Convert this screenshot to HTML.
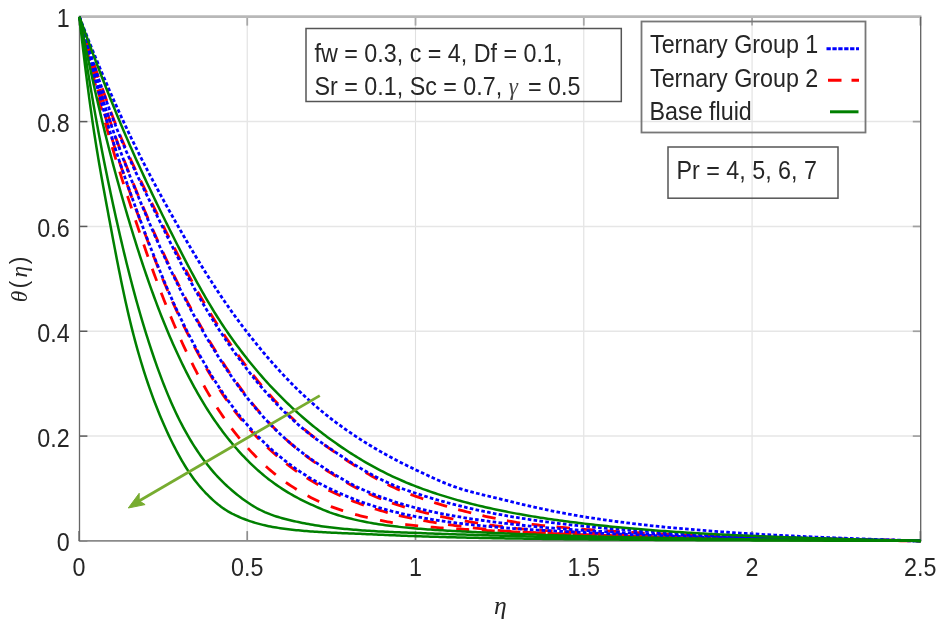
<!DOCTYPE html>
<html><head><meta charset="utf-8"><style>
html,body{margin:0;padding:0;background:#fff;}
svg{display:block;filter:blur(0.45px);}
text{font-family:"Liberation Sans",sans-serif;font-size:23.3px;fill:#262626;}
.gk{font-family:'Liberation Serif',serif;font-style:italic;}
</style></head><body>
<svg width="944" height="628" viewBox="0 0 944 628">
<rect width="944" height="628" fill="#fff"/>
<g><line x1="247.23" y1="16.8" x2="247.23" y2="540.9" stroke="#e0e0e0" stroke-width="1.1"/>
<line x1="415.51" y1="16.8" x2="415.51" y2="540.9" stroke="#e0e0e0" stroke-width="1.1"/>
<line x1="583.79" y1="16.8" x2="583.79" y2="540.9" stroke="#e0e0e0" stroke-width="1.1"/>
<line x1="752.07" y1="16.8" x2="752.07" y2="540.9" stroke="#e0e0e0" stroke-width="1.1"/>
<line x1="79.4" y1="436.08" x2="920.8" y2="436.08" stroke="#e6e6e6" stroke-width="1.5"/>
<line x1="79.4" y1="331.26" x2="920.8" y2="331.26" stroke="#e6e6e6" stroke-width="1.5"/>
<line x1="79.4" y1="226.44" x2="920.8" y2="226.44" stroke="#e6e6e6" stroke-width="1.5"/>
<line x1="79.4" y1="121.62" x2="920.8" y2="121.62" stroke="#e6e6e6" stroke-width="1.5"/></g>
<g><line x1="78.95" y1="540.9" x2="78.95" y2="531.1" stroke="#8e8e8e" stroke-width="1.7"/>
<line x1="78.95" y1="16.7" x2="78.95" y2="25.6" stroke="#a8a8a8" stroke-width="1.8"/>
<line x1="247.23" y1="540.9" x2="247.23" y2="531.1" stroke="#8e8e8e" stroke-width="1.7"/>
<line x1="247.23" y1="16.7" x2="247.23" y2="25.6" stroke="#a8a8a8" stroke-width="1.8"/>
<line x1="415.51" y1="540.9" x2="415.51" y2="531.1" stroke="#8e8e8e" stroke-width="1.7"/>
<line x1="415.51" y1="16.7" x2="415.51" y2="25.6" stroke="#a8a8a8" stroke-width="1.8"/>
<line x1="583.79" y1="540.9" x2="583.79" y2="531.1" stroke="#8e8e8e" stroke-width="1.7"/>
<line x1="583.79" y1="16.7" x2="583.79" y2="25.6" stroke="#a8a8a8" stroke-width="1.8"/>
<line x1="752.07" y1="540.9" x2="752.07" y2="531.1" stroke="#8e8e8e" stroke-width="1.7"/>
<line x1="752.07" y1="16.7" x2="752.07" y2="25.6" stroke="#a8a8a8" stroke-width="1.8"/>
<line x1="920.35" y1="540.9" x2="920.35" y2="531.1" stroke="#8e8e8e" stroke-width="1.7"/>
<line x1="920.35" y1="16.7" x2="920.35" y2="25.6" stroke="#a8a8a8" stroke-width="1.8"/>
<line x1="79.4" y1="540.90" x2="87.4" y2="540.90" stroke="#5a5a5a" stroke-width="1.5"/>
<line x1="920.8" y1="540.90" x2="912.8" y2="540.90" stroke="#a0a0a0" stroke-width="1.7"/>
<line x1="79.4" y1="436.08" x2="87.4" y2="436.08" stroke="#5a5a5a" stroke-width="1.5"/>
<line x1="920.8" y1="436.08" x2="912.8" y2="436.08" stroke="#a0a0a0" stroke-width="1.7"/>
<line x1="79.4" y1="331.26" x2="87.4" y2="331.26" stroke="#5a5a5a" stroke-width="1.5"/>
<line x1="920.8" y1="331.26" x2="912.8" y2="331.26" stroke="#a0a0a0" stroke-width="1.7"/>
<line x1="79.4" y1="226.44" x2="87.4" y2="226.44" stroke="#5a5a5a" stroke-width="1.5"/>
<line x1="920.8" y1="226.44" x2="912.8" y2="226.44" stroke="#a0a0a0" stroke-width="1.7"/>
<line x1="79.4" y1="121.62" x2="87.4" y2="121.62" stroke="#5a5a5a" stroke-width="1.5"/>
<line x1="920.8" y1="121.62" x2="912.8" y2="121.62" stroke="#a0a0a0" stroke-width="1.7"/>
<line x1="79.4" y1="16.80" x2="87.4" y2="16.80" stroke="#5a5a5a" stroke-width="1.5"/>
<line x1="920.8" y1="16.80" x2="912.8" y2="16.80" stroke="#a0a0a0" stroke-width="1.7"/></g>
<line x1="78.80000000000001" y1="16.7" x2="921.4" y2="16.7" stroke="#b8b8b8" stroke-width="2.8"/>
<line x1="78.80000000000001" y1="540.9" x2="921.4" y2="540.9" stroke="#8a8a8a" stroke-width="1.9"/>
<line x1="79.5" y1="16.8" x2="79.5" y2="540.9" stroke="#666" stroke-width="1.3"/>
<line x1="920.7" y1="16.8" x2="920.7" y2="540.9" stroke="#606060" stroke-width="1.3"/>
<g><path d="M79.40,16.80 L79.46,17.06 L79.58,17.60 L79.74,18.33 L79.93,19.22 L80.16,20.25 L80.42,21.42 L80.70,22.71 L81.02,24.10 L81.35,25.60 L81.71,27.21 L82.09,28.90 L82.49,30.69 L82.91,32.55 L83.36,34.51 L83.82,36.53 L84.30,38.64 L84.80,40.81 L85.31,43.06 L85.85,45.36 L86.40,47.74 L86.97,50.17 L87.55,52.66 L88.15,55.21 L88.77,57.81 L89.40,60.47 L90.05,63.17 L90.71,65.93 L91.39,68.73 L92.08,71.57 L92.79,74.46 L93.51,77.38 L94.25,80.35 L95.00,83.35 L95.76,86.39 L96.54,89.47 L97.33,92.57 L98.13,95.71 L98.95,98.88 L99.78,102.07 L100.62,105.30 L101.47,108.55 L102.34,111.82 L103.22,115.12 L104.12,118.44 L105.02,121.77 L105.94,125.12 L106.87,128.48 L107.81,131.84 L108.76,135.21 L109.72,138.59 L110.70,141.96 L111.69,145.35 L112.69,148.74 L113.70,152.14 L114.72,155.54 L115.75,158.95 L116.80,162.36 L117.85,165.79 L118.92,169.22 L120.00,172.66 L121.08,176.11 L122.18,179.58 L123.29,183.05 L124.41,186.53 L125.54,190.03 L126.68,193.54 L127.84,197.07 L129.00,200.61 L130.17,204.17 L131.35,207.74 L132.54,211.34 L133.75,214.95 L134.96,218.58 L136.18,222.24 L137.42,225.92 L138.66,229.61 L139.91,233.32 L141.17,237.04 L142.44,240.77 L143.73,244.50 L145.02,248.24 L146.32,251.99 L147.63,255.73 L148.95,259.48 L150.28,263.22 L151.62,266.96 L152.97,270.70 L154.32,274.42 L155.69,278.14 L157.07,281.85 L158.45,285.55 L159.85,289.24 L161.25,292.91 L162.66,296.56 L164.08,300.20 L165.52,303.82 L166.95,307.41 L168.40,310.99 L169.86,314.54 L171.33,318.06 L172.80,321.56 L174.29,325.03 L175.78,328.48 L177.28,331.89 L178.79,335.28 L180.31,338.65 L181.84,342.00 L183.37,345.32 L184.92,348.62 L186.47,351.89 L188.03,355.14 L189.60,358.36 L191.18,361.56 L192.77,364.72 L194.36,367.86 L195.97,370.97 L197.58,374.04 L199.20,377.09 L200.83,380.10 L202.47,383.08 L204.11,386.03 L205.76,388.95 L207.42,391.83 L209.09,394.67 L210.77,397.48 L212.46,400.26 L214.15,403.00 L215.85,405.70 L217.56,408.37 L219.28,411.00 L221.01,413.59 L222.74,416.14 L224.48,418.66 L226.23,421.14 L227.99,423.58 L229.75,425.99 L231.52,428.35 L233.30,430.68 L235.09,432.97 L236.89,435.22 L238.69,437.44 L240.50,439.62 L242.32,441.78 L244.15,443.91 L245.98,446.01 L247.83,448.07 L249.68,450.11 L251.53,452.11 L253.40,454.08 L255.27,456.02 L257.15,457.93 L259.04,459.80 L260.93,461.65 L262.83,463.46 L264.74,465.23 L266.66,466.98 L268.58,468.69 L270.52,470.36 L272.46,472.01 L274.40,473.62 L276.36,475.20 L278.32,476.74 L280.28,478.25 L282.26,479.73 L284.24,481.18 L286.23,482.60 L288.23,483.98 L290.23,485.33 L292.25,486.65 L294.26,487.94 L296.29,489.21 L298.32,490.45 L300.36,491.67 L302.41,492.87 L304.46,494.05 L306.53,495.20 L308.59,496.33 L310.67,497.43 L312.75,498.51 L314.84,499.55 L316.94,500.57 L319.04,501.56 L321.15,502.51 L323.27,503.44 L325.39,504.33 L327.52,505.20 L329.66,506.03 L331.81,506.83 L333.96,507.60 L336.12,508.37 L338.28,509.11 L340.45,509.85 L342.63,510.57 L344.82,511.27 L347.01,511.96 L349.21,512.64 L351.41,513.29 L353.63,513.94 L355.85,514.57 L358.07,515.18 L360.31,515.78 L362.54,516.36 L364.79,516.93 L367.04,517.48 L369.30,518.01 L371.57,518.53 L373.84,519.04 L376.12,519.53 L378.41,520.00 L380.70,520.46 L383.00,520.91 L385.30,521.34 L387.61,521.76 L389.93,522.16 L392.26,522.55 L394.59,522.92 L396.93,523.28 L399.27,523.63 L401.62,523.96 L403.98,524.28 L406.34,524.59 L408.71,524.89 L411.09,525.17 L413.47,525.44 L415.86,525.69 L418.26,525.94 L420.66,526.17 L423.07,526.40 L425.48,526.62 L427.91,526.83 L430.33,527.04 L432.77,527.23 L435.21,527.43 L437.65,527.61 L440.11,527.79 L442.57,527.97 L445.03,528.14 L447.50,528.30 L449.98,528.47 L452.46,528.63 L454.95,528.78 L457.45,528.93 L459.95,529.08 L462.46,529.23 L464.98,529.37 L467.50,529.51 L470.03,529.65 L472.56,529.79 L475.10,529.92 L477.64,530.06 L480.20,530.19 L482.75,530.32 L485.32,530.45 L487.89,530.58 L490.46,530.72 L493.05,530.85 L495.64,530.98 L498.23,531.11 L500.83,531.24 L503.44,531.37 L506.05,531.50 L508.67,531.62 L511.29,531.75 L513.92,531.87 L516.56,531.99 L519.20,532.11 L521.85,532.22 L524.50,532.34 L527.16,532.45 L529.83,532.57 L532.50,532.68 L535.18,532.79 L537.86,532.89 L540.55,533.00 L543.25,533.11 L545.95,533.21 L548.66,533.32 L551.37,533.42 L554.09,533.52 L556.82,533.63 L559.55,533.73 L562.29,533.83 L565.03,533.93 L567.78,534.03 L570.53,534.13 L573.29,534.23 L576.06,534.32 L578.83,534.42 L581.61,534.52 L584.39,534.62 L587.18,534.71 L589.97,534.81 L592.77,534.90 L595.58,535.00 L598.39,535.09 L601.21,535.18 L604.03,535.27 L606.86,535.36 L609.70,535.45 L612.54,535.54 L615.38,535.63 L618.24,535.71 L621.09,535.80 L623.96,535.89 L626.83,535.97 L629.70,536.05 L632.58,536.13 L635.47,536.22 L638.36,536.30 L641.26,536.38 L644.16,536.46 L647.07,536.53 L649.98,536.61 L652.90,536.69 L655.82,536.76 L658.76,536.84 L661.69,536.91 L664.63,536.99 L667.58,537.06 L670.53,537.13 L673.49,537.20 L676.46,537.27 L679.43,537.34 L682.40,537.41 L685.38,537.48 L688.37,537.55 L691.36,537.61 L694.36,537.68 L697.36,537.74 L700.37,537.81 L703.38,537.87 L706.40,537.93 L709.42,538.00 L712.45,538.06 L715.49,538.12 L718.53,538.18 L721.58,538.24 L724.63,538.30 L727.68,538.36 L730.75,538.41 L733.81,538.47 L736.89,538.53 L739.97,538.58 L743.05,538.64 L746.14,538.69 L749.23,538.75 L752.33,538.80 L755.44,538.85 L758.55,538.90 L761.67,538.95 L764.79,538.99 L767.92,539.04 L771.05,539.09 L774.19,539.14 L777.33,539.18 L780.48,539.23 L783.63,539.27 L786.79,539.32 L789.95,539.36 L793.12,539.40 L796.30,539.45 L799.48,539.49 L802.66,539.53 L805.85,539.57 L809.05,539.61 L812.25,539.66 L815.46,539.70 L818.67,539.74 L821.89,539.78 L825.11,539.82 L828.34,539.86 L831.57,539.90 L834.81,539.93 L838.05,539.97 L841.30,540.01 L844.55,540.05 L847.81,540.09 L851.07,540.13 L854.34,540.16 L857.62,540.20 L860.89,540.24 L864.18,540.28 L867.47,540.31 L870.76,540.35 L874.06,540.39 L877.37,540.42 L880.68,540.46 L883.99,540.50 L887.31,540.53 L890.64,540.57 L893.97,540.61 L897.31,540.64 L900.65,540.68 L903.99,540.72 L907.34,540.75 L910.70,540.79 L914.06,540.83 L917.43,540.86 L920.80,540.90" stroke="#ff0000" stroke-width="2.8" stroke-dasharray="13 12.58" stroke-dashoffset="18.98" fill="none"/>
<path d="M79.40,16.80 L79.46,17.05 L79.58,17.55 L79.74,18.23 L79.93,19.07 L80.16,20.04 L80.42,21.13 L80.70,22.33 L81.02,23.64 L81.35,25.05 L81.71,26.55 L82.09,28.13 L82.49,29.81 L82.91,31.56 L83.36,33.39 L83.82,35.29 L84.30,37.26 L84.80,39.30 L85.31,41.40 L85.85,43.56 L86.40,45.79 L86.97,48.07 L87.55,50.41 L88.15,52.80 L88.77,55.24 L89.40,57.73 L90.05,60.26 L90.71,62.85 L91.39,65.47 L92.08,68.14 L92.79,70.85 L93.51,73.60 L94.25,76.38 L95.00,79.20 L95.76,82.06 L96.54,84.94 L97.33,87.86 L98.13,90.81 L98.95,93.79 L99.78,96.79 L100.62,99.82 L101.47,102.87 L102.34,105.95 L103.22,109.05 L104.12,112.17 L105.02,115.31 L105.94,118.47 L106.87,121.64 L107.81,124.83 L108.76,128.03 L109.72,131.23 L110.70,134.43 L111.69,137.64 L112.69,140.86 L113.70,144.08 L114.72,147.31 L115.75,150.54 L116.80,153.77 L117.85,157.01 L118.92,160.26 L120.00,163.51 L121.08,166.77 L122.18,170.03 L123.29,173.30 L124.41,176.58 L125.54,179.87 L126.68,183.16 L127.84,186.46 L129.00,189.77 L130.17,193.09 L131.35,196.41 L132.54,199.75 L133.75,203.10 L134.96,206.46 L136.18,209.83 L137.42,213.22 L138.66,216.62 L139.91,220.03 L141.17,223.45 L142.44,226.90 L143.73,230.35 L145.02,233.81 L146.32,237.27 L147.63,240.74 L148.95,244.21 L150.28,247.68 L151.62,251.15 L152.97,254.62 L154.32,258.08 L155.69,261.55 L157.07,265.00 L158.45,268.45 L159.85,271.90 L161.25,275.33 L162.66,278.76 L164.08,282.17 L165.52,285.57 L166.95,288.96 L168.40,292.33 L169.86,295.69 L171.33,299.03 L172.80,302.35 L174.29,305.66 L175.78,308.94 L177.28,312.20 L178.79,315.45 L180.31,318.66 L181.84,321.86 L183.37,325.03 L184.92,328.18 L186.47,331.30 L188.03,334.40 L189.60,337.48 L191.18,340.54 L192.77,343.59 L194.36,346.61 L195.97,349.62 L197.58,352.60 L199.20,355.57 L200.83,358.51 L202.47,361.43 L204.11,364.32 L205.76,367.19 L207.42,370.03 L209.09,372.85 L210.77,375.64 L212.46,378.40 L214.15,381.14 L215.85,383.84 L217.56,386.52 L219.28,389.17 L221.01,391.78 L222.74,394.37 L224.48,396.93 L226.23,399.45 L227.99,401.94 L229.75,404.41 L231.52,406.83 L233.30,409.23 L235.09,411.59 L236.89,413.92 L238.69,416.22 L240.50,418.48 L242.32,420.71 L244.15,422.91 L245.98,425.07 L247.83,427.20 L249.68,429.29 L251.53,431.35 L253.40,433.38 L255.27,435.37 L257.15,437.33 L259.04,439.26 L260.93,441.17 L262.83,443.05 L264.74,444.90 L266.66,446.73 L268.58,448.53 L270.52,450.30 L272.46,452.05 L274.40,453.78 L276.36,455.47 L278.32,457.15 L280.28,458.79 L282.26,460.41 L284.24,462.00 L286.23,463.57 L288.23,465.11 L290.23,466.63 L292.25,468.12 L294.26,469.58 L296.29,471.02 L298.32,472.43 L300.36,473.82 L302.41,475.19 L304.46,476.53 L306.53,477.84 L308.59,479.13 L310.67,480.40 L312.75,481.64 L314.84,482.86 L316.94,484.06 L319.04,485.23 L321.15,486.38 L323.27,487.50 L325.39,488.61 L327.52,489.69 L329.66,490.75 L331.81,491.79 L333.96,492.82 L336.12,493.83 L338.28,494.83 L340.45,495.81 L342.63,496.77 L344.82,497.71 L347.01,498.64 L349.21,499.56 L351.41,500.45 L353.63,501.33 L355.85,502.19 L358.07,503.04 L360.31,503.87 L362.54,504.68 L364.79,505.48 L367.04,506.26 L369.30,507.03 L371.57,507.77 L373.84,508.51 L376.12,509.22 L378.41,509.93 L380.70,510.61 L383.00,511.28 L385.30,511.94 L387.61,512.58 L389.93,513.21 L392.26,513.82 L394.59,514.41 L396.93,515.00 L399.27,515.56 L401.62,516.12 L403.98,516.66 L406.34,517.19 L408.71,517.70 L411.09,518.20 L413.47,518.69 L415.86,519.17 L418.26,519.63 L420.66,520.09 L423.07,520.54 L425.48,520.97 L427.91,521.40 L430.33,521.82 L432.77,522.23 L435.21,522.64 L437.65,523.03 L440.11,523.42 L442.57,523.79 L445.03,524.16 L447.50,524.53 L449.98,524.88 L452.46,525.23 L454.95,525.57 L457.45,525.90 L459.95,526.23 L462.46,526.54 L464.98,526.86 L467.50,527.16 L470.03,527.46 L472.56,527.75 L475.10,528.04 L477.64,528.32 L480.20,528.60 L482.75,528.86 L485.32,529.13 L487.89,529.38 L490.46,529.64 L493.05,529.88 L495.64,530.12 L498.23,530.36 L500.83,530.59 L503.44,530.81 L506.05,531.03 L508.67,531.25 L511.29,531.46 L513.92,531.66 L516.56,531.86 L519.20,532.00 L521.85,532.13 L524.50,532.26 L527.16,532.38 L529.83,532.51 L532.50,532.63 L535.18,532.75 L537.86,532.86 L540.55,532.98 L543.25,533.09 L545.95,533.20 L548.66,533.32 L551.37,533.43 L554.09,533.53 L556.82,533.64 L559.55,533.75 L562.29,533.86 L565.03,533.96 L567.78,534.07 L570.53,534.17 L573.29,534.28 L576.06,534.38 L578.83,534.49 L581.61,534.59 L584.39,534.70 L587.18,534.80 L589.97,534.90 L592.77,535.00 L595.58,535.10 L598.39,535.20 L601.21,535.30 L604.03,535.40 L606.86,535.49 L609.70,535.59 L612.54,535.68 L615.38,535.77 L618.24,535.86 L621.09,535.95 L623.96,536.04 L626.83,536.13 L629.70,536.22 L632.58,536.30 L635.47,536.39 L638.36,536.47 L641.26,536.55 L644.16,536.63 L647.07,536.71 L649.98,536.79 L652.90,536.87 L655.82,536.95 L658.76,537.03 L661.69,537.10 L664.63,537.18 L667.58,537.25 L670.53,537.32 L673.49,537.40 L676.46,537.47 L679.43,537.54 L682.40,537.61 L685.38,537.68 L688.37,537.74 L691.36,537.81 L694.36,537.88 L697.36,537.94 L700.37,538.01 L703.38,538.07 L706.40,538.13 L709.42,538.19 L712.45,538.26 L715.49,538.32 L718.53,538.38 L721.58,538.44 L724.63,538.49 L727.68,538.55 L730.75,538.61 L733.81,538.66 L736.89,538.72 L739.97,538.77 L743.05,538.83 L746.14,538.88 L749.23,538.93 L752.33,538.98 L755.44,539.03 L758.55,539.08 L761.67,539.12 L764.79,539.17 L767.92,539.22 L771.05,539.26 L774.19,539.31 L777.33,539.35 L780.48,539.39 L783.63,539.44 L786.79,539.48 L789.95,539.52 L793.12,539.56 L796.30,539.60 L799.48,539.64 L802.66,539.68 L805.85,539.72 L809.05,539.76 L812.25,539.80 L815.46,539.84 L818.67,539.88 L821.89,539.92 L825.11,539.95 L828.34,539.99 L831.57,540.03 L834.81,540.06 L838.05,540.10 L841.30,540.14 L844.55,540.17 L847.81,540.21 L851.07,540.24 L854.34,540.28 L857.62,540.31 L860.89,540.35 L864.18,540.38 L867.47,540.41 L870.76,540.45 L874.06,540.48 L877.37,540.51 L880.68,540.55 L883.99,540.58 L887.31,540.61 L890.64,540.65 L893.97,540.68 L897.31,540.71 L900.65,540.75 L903.99,540.78 L907.34,540.81 L910.70,540.84 L914.06,540.88 L917.43,540.91 L920.80,540.90" stroke="#ff0000" stroke-width="2.8" stroke-dasharray="13.5 11.5" fill="none"/>
<path d="M79.40,16.80 L79.46,17.02 L79.58,17.48 L79.74,18.09 L79.93,18.84 L80.16,19.72 L80.42,20.70 L80.70,21.79 L81.02,22.97 L81.35,24.24 L81.71,25.59 L82.09,27.02 L82.49,28.53 L82.91,30.11 L83.36,31.76 L83.82,33.47 L84.30,35.25 L84.80,37.09 L85.31,38.99 L85.85,40.94 L86.40,42.95 L86.97,45.00 L87.55,47.11 L88.15,49.27 L88.77,51.47 L89.40,53.72 L90.05,56.00 L90.71,58.33 L91.39,60.70 L92.08,63.11 L92.79,65.55 L93.51,68.03 L94.25,70.54 L95.00,73.08 L95.76,75.65 L96.54,78.26 L97.33,80.89 L98.13,83.54 L98.95,86.23 L99.78,88.93 L100.62,91.66 L101.47,94.42 L102.34,97.19 L103.22,99.98 L104.12,102.79 L105.02,105.62 L105.94,108.46 L106.87,111.32 L107.81,114.20 L108.76,117.09 L109.72,119.99 L110.70,122.90 L111.69,125.81 L112.69,128.73 L113.70,131.65 L114.72,134.57 L115.75,137.50 L116.80,140.42 L117.85,143.35 L118.92,146.28 L120.00,149.21 L121.08,152.14 L122.18,155.07 L123.29,158.01 L124.41,160.95 L125.54,163.89 L126.68,166.83 L127.84,169.77 L129.00,172.72 L130.17,175.67 L131.35,178.63 L132.54,181.59 L133.75,184.55 L134.96,187.52 L136.18,190.50 L137.42,193.48 L138.66,196.47 L139.91,199.47 L141.17,202.48 L142.44,205.49 L143.73,208.51 L145.02,211.54 L146.32,214.59 L147.63,217.64 L148.95,220.71 L150.28,223.78 L151.62,226.88 L152.97,229.97 L154.32,233.07 L155.69,236.16 L157.07,239.26 L158.45,242.35 L159.85,245.44 L161.25,248.52 L162.66,251.61 L164.08,254.69 L165.52,257.76 L166.95,260.83 L168.40,263.90 L169.86,266.96 L171.33,270.01 L172.80,273.06 L174.29,276.10 L175.78,279.13 L177.28,282.16 L178.79,285.18 L180.31,288.19 L181.84,291.19 L183.37,294.17 L184.92,297.15 L186.47,300.12 L188.03,303.08 L189.60,306.03 L191.18,308.97 L192.77,311.89 L194.36,314.80 L195.97,317.70 L197.58,320.59 L199.20,323.47 L200.83,326.33 L202.47,329.17 L204.11,332.00 L205.76,334.82 L207.42,337.64 L209.09,340.44 L210.77,343.23 L212.46,346.00 L214.15,348.77 L215.85,351.52 L217.56,354.26 L219.28,356.98 L221.01,359.68 L222.74,362.37 L224.48,365.04 L226.23,367.69 L227.99,370.32 L229.75,372.93 L231.52,375.52 L233.30,378.09 L235.09,380.64 L236.89,383.17 L238.69,385.67 L240.50,388.15 L242.32,390.60 L244.15,393.03 L245.98,395.44 L247.83,397.82 L249.68,400.17 L251.53,402.50 L253.40,404.80 L255.27,407.07 L257.15,409.32 L259.04,411.53 L260.93,413.72 L262.83,415.89 L264.74,418.02 L266.66,420.12 L268.58,422.20 L270.52,424.25 L272.46,426.27 L274.40,428.25 L276.36,430.21 L278.32,432.14 L280.28,434.04 L282.26,435.91 L284.24,437.75 L286.23,439.56 L288.23,441.35 L290.23,443.11 L292.25,444.84 L294.26,446.55 L296.29,448.23 L298.32,449.89 L300.36,451.52 L302.41,453.14 L304.46,454.73 L306.53,456.30 L308.59,457.85 L310.67,459.38 L312.75,460.89 L314.84,462.38 L316.94,463.85 L319.04,465.31 L321.15,466.75 L323.27,468.17 L325.39,469.57 L327.52,470.96 L329.66,472.33 L331.81,473.69 L333.96,475.03 L336.12,476.36 L338.28,477.69 L340.45,479.00 L342.63,480.30 L344.82,481.59 L347.01,482.86 L349.21,484.10 L351.41,485.32 L353.63,486.52 L355.85,487.68 L358.07,488.82 L360.31,489.92 L362.54,490.99 L364.79,492.04 L367.04,493.06 L369.30,494.06 L371.57,495.05 L373.84,496.02 L376.12,496.96 L378.41,497.89 L380.70,498.80 L383.00,499.69 L385.30,500.57 L387.61,501.42 L389.93,502.26 L392.26,503.08 L394.59,503.88 L396.93,504.67 L399.27,505.44 L401.62,506.19 L403.98,506.93 L406.34,507.65 L408.71,508.35 L411.09,509.04 L413.47,509.71 L415.86,510.37 L418.26,511.02 L420.66,511.65 L423.07,512.26 L425.48,512.87 L427.91,513.46 L430.33,514.04 L432.77,514.60 L435.21,515.16 L437.65,515.70 L440.11,516.24 L442.57,516.76 L445.03,517.28 L447.50,517.78 L449.98,518.28 L452.46,518.76 L454.95,519.24 L457.45,519.70 L459.95,520.16 L462.46,520.61 L464.98,521.05 L467.50,521.49 L470.03,521.91 L472.56,522.33 L475.10,522.74 L477.64,523.14 L480.20,523.54 L482.75,523.93 L485.32,524.31 L487.89,524.68 L490.46,525.05 L493.05,525.41 L495.64,525.77 L498.23,526.12 L500.83,526.46 L503.44,526.80 L506.05,527.13 L508.67,527.46 L511.29,527.78 L513.92,528.10 L516.56,528.40 L519.20,528.63 L521.85,528.85 L524.50,529.06 L527.16,529.26 L529.83,529.47 L532.50,529.67 L535.18,529.86 L537.86,530.06 L540.55,530.24 L543.25,530.43 L545.95,530.61 L548.66,530.79 L551.37,530.97 L554.09,531.14 L556.82,531.31 L559.55,531.47 L562.29,531.64 L565.03,531.79 L567.78,531.95 L570.53,532.11 L573.29,532.26 L576.06,532.40 L578.83,532.55 L581.61,532.69 L584.39,532.83 L587.18,532.97 L589.97,533.10 L592.77,533.24 L595.58,533.37 L598.39,533.49 L601.21,533.62 L604.03,533.75 L606.86,533.87 L609.70,533.99 L612.54,534.11 L615.38,534.22 L618.24,534.34 L621.09,534.45 L623.96,534.56 L626.83,534.67 L629.70,534.78 L632.58,534.89 L635.47,534.99 L638.36,535.09 L641.26,535.20 L644.16,535.29 L647.07,535.39 L649.98,535.49 L652.90,535.58 L655.82,535.68 L658.76,535.77 L661.69,535.86 L664.63,535.95 L667.58,536.04 L670.53,536.12 L673.49,536.21 L676.46,536.29 L679.43,536.38 L682.40,536.46 L685.38,536.54 L688.37,536.62 L691.36,536.70 L694.36,536.77 L697.36,536.85 L700.37,536.92 L703.38,537.00 L706.40,537.07 L709.42,537.14 L712.45,537.21 L715.49,537.28 L718.53,537.35 L721.58,537.41 L724.63,537.48 L727.68,537.55 L730.75,537.61 L733.81,537.67 L736.89,537.74 L739.97,537.80 L743.05,537.86 L746.14,537.92 L749.23,537.98 L752.33,538.04 L755.44,538.10 L758.55,538.16 L761.67,538.22 L764.79,538.28 L767.92,538.34 L771.05,538.40 L774.19,538.46 L777.33,538.52 L780.48,538.58 L783.63,538.64 L786.79,538.69 L789.95,538.75 L793.12,538.81 L796.30,538.86 L799.48,538.92 L802.66,538.97 L805.85,539.03 L809.05,539.08 L812.25,539.14 L815.46,539.19 L818.67,539.24 L821.89,539.30 L825.11,539.35 L828.34,539.40 L831.57,539.45 L834.81,539.50 L838.05,539.56 L841.30,539.61 L844.55,539.66 L847.81,539.71 L851.07,539.76 L854.34,539.81 L857.62,539.86 L860.89,539.91 L864.18,539.96 L867.47,540.01 L870.76,540.06 L874.06,540.11 L877.37,540.16 L880.68,540.21 L883.99,540.26 L887.31,540.30 L890.64,540.35 L893.97,540.40 L897.31,540.45 L900.65,540.50 L903.99,540.55 L907.34,540.60 L910.70,540.65 L914.06,540.70 L917.43,540.75 L920.80,540.90" stroke="#ff0000" stroke-width="2.8" stroke-dasharray="13.5 11.5" fill="none"/>
<path d="M79.40,16.80 L79.46,17.00 L79.58,17.40 L79.74,17.95 L79.93,18.62 L80.16,19.40 L80.42,20.28 L80.70,21.25 L81.02,22.30 L81.35,23.43 L81.71,24.64 L82.09,25.92 L82.49,27.26 L82.91,28.67 L83.36,30.14 L83.82,31.67 L84.30,33.26 L84.80,34.90 L85.31,36.59 L85.85,38.33 L86.40,40.12 L86.97,41.96 L87.55,43.84 L88.15,45.77 L88.77,47.73 L89.40,49.74 L90.05,51.78 L90.71,53.86 L91.39,55.97 L92.08,58.12 L92.79,60.30 L93.51,62.51 L94.25,64.76 L95.00,67.03 L95.76,69.32 L96.54,71.65 L97.33,74.00 L98.13,76.37 L98.95,78.77 L99.78,81.18 L100.62,83.62 L101.47,86.08 L102.34,88.55 L103.22,91.05 L104.12,93.56 L105.02,96.08 L105.94,98.62 L106.87,101.17 L107.81,103.74 L108.76,106.31 L109.72,108.90 L110.70,111.50 L111.69,114.11 L112.69,116.72 L113.70,119.34 L114.72,121.97 L115.75,124.60 L116.80,127.22 L117.85,129.84 L118.92,132.45 L120.00,135.06 L121.08,137.67 L122.18,140.27 L123.29,142.87 L124.41,145.46 L125.54,148.05 L126.68,150.64 L127.84,153.22 L129.00,155.81 L130.17,158.39 L131.35,160.97 L132.54,163.56 L133.75,166.14 L134.96,168.72 L136.18,171.31 L137.42,173.90 L138.66,176.49 L139.91,179.09 L141.17,181.69 L142.44,184.30 L143.73,186.91 L145.02,189.54 L146.32,192.17 L147.63,194.81 L148.95,197.46 L150.28,200.13 L151.62,202.81 L152.97,205.50 L154.32,208.20 L155.69,210.93 L157.07,213.67 L158.45,216.42 L159.85,219.20 L161.25,222.00 L162.66,224.81 L164.08,227.65 L165.52,230.51 L166.95,233.37 L168.40,236.25 L169.86,239.13 L171.33,242.03 L172.80,244.93 L174.29,247.83 L175.78,250.75 L177.28,253.66 L178.79,256.58 L180.31,259.50 L181.84,262.42 L183.37,265.34 L184.92,268.26 L186.47,271.18 L188.03,274.09 L189.60,277.00 L191.18,279.91 L192.77,282.80 L194.36,285.69 L195.97,288.57 L197.58,291.45 L199.20,294.31 L200.83,297.16 L202.47,299.99 L204.11,302.82 L205.76,305.63 L207.42,308.42 L209.09,311.20 L210.77,313.96 L212.46,316.71 L214.15,319.43 L215.85,322.14 L217.56,324.83 L219.28,327.49 L221.01,330.14 L222.74,332.76 L224.48,335.37 L226.23,337.97 L227.99,340.56 L229.75,343.14 L231.52,345.71 L233.30,348.26 L235.09,350.80 L236.89,353.33 L238.69,355.84 L240.50,358.33 L242.32,360.82 L244.15,363.28 L245.98,365.73 L247.83,368.16 L249.68,370.57 L251.53,372.96 L253.40,375.34 L255.27,377.69 L257.15,380.03 L259.04,382.35 L260.93,384.64 L262.83,386.92 L264.74,389.17 L266.66,391.40 L268.58,393.61 L270.52,395.80 L272.46,397.97 L274.40,400.11 L276.36,402.23 L278.32,404.32 L280.28,406.39 L282.26,408.44 L284.24,410.47 L286.23,412.47 L288.23,414.44 L290.23,416.39 L292.25,418.32 L294.26,420.22 L296.29,422.10 L298.32,423.95 L300.36,425.78 L302.41,427.58 L304.46,429.36 L306.53,431.11 L308.59,432.83 L310.67,434.53 L312.75,436.21 L314.84,437.86 L316.94,439.48 L319.04,441.06 L321.15,442.62 L323.27,444.14 L325.39,445.64 L327.52,447.13 L329.66,448.62 L331.81,450.10 L333.96,451.58 L336.12,453.07 L338.28,454.56 L340.45,456.06 L342.63,457.55 L344.82,459.03 L347.01,460.51 L349.21,461.98 L351.41,463.44 L353.63,464.89 L355.85,466.33 L358.07,467.75 L360.31,469.16 L362.54,470.55 L364.79,471.93 L367.04,473.28 L369.30,474.62 L371.57,475.94 L373.84,477.23 L376.12,478.51 L378.41,479.76 L380.70,480.99 L383.00,482.19 L385.30,483.37 L387.61,484.53 L389.93,485.66 L392.26,486.76 L394.59,487.84 L396.93,488.90 L399.27,489.92 L401.62,490.93 L403.98,491.90 L406.34,492.85 L408.71,493.76 L411.09,494.64 L413.47,495.50 L415.86,496.33 L418.26,497.16 L420.66,497.98 L423.07,498.81 L425.48,499.62 L427.91,500.43 L430.33,501.23 L432.77,502.02 L435.21,502.79 L437.65,503.56 L440.11,504.32 L442.57,505.07 L445.03,505.81 L447.50,506.54 L449.98,507.25 L452.46,507.96 L454.95,508.66 L457.45,509.35 L459.95,510.03 L462.46,510.70 L464.98,511.36 L467.50,512.00 L470.03,512.64 L472.56,513.27 L475.10,513.89 L477.64,514.49 L480.20,515.09 L482.75,515.68 L485.32,516.26 L487.89,516.83 L490.46,517.38 L493.05,517.93 L495.64,518.47 L498.23,519.00 L500.83,519.52 L503.44,520.03 L506.05,520.53 L508.67,521.02 L511.29,521.50 L513.92,521.98 L516.56,522.45 L519.20,522.80 L521.85,523.13 L524.50,523.45 L527.16,523.77 L529.83,524.08 L532.50,524.39 L535.18,524.70 L537.86,524.99 L540.55,525.29 L543.25,525.58 L545.95,525.86 L548.66,526.14 L551.37,526.41 L554.09,526.68 L556.82,526.95 L559.55,527.20 L562.29,527.46 L565.03,527.71 L567.78,527.95 L570.53,528.19 L573.29,528.43 L576.06,528.66 L578.83,528.88 L581.61,529.10 L584.39,529.32 L587.18,529.53 L589.97,529.74 L592.77,529.94 L595.58,530.14 L598.39,530.34 L601.21,530.53 L604.03,530.72 L606.86,530.90 L609.70,531.09 L612.54,531.27 L615.38,531.44 L618.24,531.62 L621.09,531.79 L623.96,531.96 L626.83,532.12 L629.70,532.29 L632.58,532.45 L635.47,532.60 L638.36,532.76 L641.26,532.91 L644.16,533.06 L647.07,533.21 L649.98,533.35 L652.90,533.49 L655.82,533.63 L658.76,533.77 L661.69,533.91 L664.63,534.04 L667.58,534.17 L670.53,534.30 L673.49,534.42 L676.46,534.55 L679.43,534.67 L682.40,534.79 L685.38,534.91 L688.37,535.03 L691.36,535.14 L694.36,535.25 L697.36,535.36 L700.37,535.47 L703.38,535.58 L706.40,535.69 L709.42,535.79 L712.45,535.89 L715.49,535.99 L718.53,536.09 L721.58,536.19 L724.63,536.28 L727.68,536.38 L730.75,536.47 L733.81,536.56 L736.89,536.65 L739.97,536.74 L743.05,536.83 L746.14,536.92 L749.23,537.00 L752.33,537.09 L755.44,537.17 L758.55,537.25 L761.67,537.33 L764.79,537.41 L767.92,537.50 L771.05,537.58 L774.19,537.66 L777.33,537.75 L780.48,537.83 L783.63,537.91 L786.79,537.98 L789.95,538.06 L793.12,538.14 L796.30,538.21 L799.48,538.29 L802.66,538.36 L805.85,538.44 L809.05,538.51 L812.25,538.58 L815.46,538.65 L818.67,538.72 L821.89,538.79 L825.11,538.86 L828.34,538.93 L831.57,539.00 L834.81,539.07 L838.05,539.13 L841.30,539.20 L844.55,539.27 L847.81,539.33 L851.07,539.39 L854.34,539.46 L857.62,539.52 L860.89,539.59 L864.18,539.65 L867.47,539.71 L870.76,539.77 L874.06,539.84 L877.37,539.90 L880.68,539.96 L883.99,540.02 L887.31,540.08 L890.64,540.14 L893.97,540.20 L897.31,540.26 L900.65,540.32 L903.99,540.38 L907.34,540.44 L910.70,540.50 L914.06,540.56 L917.43,540.62 L920.80,540.90" stroke="#ff0000" stroke-width="2.8" stroke-dasharray="13.5 11.5" fill="none"/>
<path d="M79.40,16.80 L79.46,17.05 L79.58,17.54 L79.74,18.22 L79.93,19.05 L80.16,20.02 L80.42,21.10 L80.70,22.30 L81.02,23.60 L81.35,25.00 L81.71,26.50 L82.09,28.08 L82.49,29.74 L82.91,31.48 L83.36,33.30 L83.82,35.20 L84.30,37.16 L84.80,39.19 L85.31,41.28 L85.85,43.43 L86.40,45.65 L86.97,47.92 L87.55,50.24 L88.15,52.62 L88.77,55.05 L89.40,57.53 L90.05,60.06 L90.71,62.63 L91.39,65.24 L92.08,67.90 L92.79,70.59 L93.51,73.33 L94.25,76.10 L95.00,78.91 L95.76,81.75 L96.54,84.63 L97.33,87.53 L98.13,90.47 L98.95,93.43 L99.78,96.42 L100.62,99.44 L101.47,102.48 L102.34,105.54 L103.22,108.63 L104.12,111.74 L105.02,114.86 L105.94,118.01 L106.87,121.17 L107.81,124.35 L108.76,127.53 L109.72,130.72 L110.70,133.92 L111.69,137.12 L112.69,140.32 L113.70,143.53 L114.72,146.74 L115.75,149.96 L116.80,153.19 L117.85,156.42 L118.92,159.65 L120.00,162.89 L121.08,166.14 L122.18,169.39 L123.29,172.65 L124.41,175.91 L125.54,179.19 L126.68,182.46 L127.84,185.75 L129.00,189.05 L130.17,192.35 L131.35,195.66 L132.54,198.99 L133.75,202.32 L134.96,205.67 L136.18,209.02 L137.42,212.39 L138.66,215.78 L139.91,219.17 L141.17,222.58 L142.44,226.01 L143.73,229.44 L145.02,232.89 L146.32,236.34 L147.63,239.79 L148.95,243.24 L150.28,246.70 L151.62,250.16 L152.97,253.61 L154.32,257.06 L155.69,260.51 L157.07,263.95 L158.45,267.39 L159.85,270.82 L161.25,274.24 L162.66,277.65 L164.08,281.05 L165.52,284.44 L166.95,287.82 L168.40,291.18 L169.86,294.52 L171.33,297.85 L172.80,301.16 L174.29,304.46 L175.78,307.73 L177.28,310.98 L178.79,314.21 L180.31,317.42 L181.84,320.61 L183.37,323.77 L184.92,326.91 L186.47,330.02 L188.03,333.10 L189.60,336.17 L191.18,339.22 L192.77,342.25 L194.36,345.27 L195.97,348.26 L197.58,351.23 L199.20,354.18 L200.83,357.11 L202.47,360.02 L204.11,362.90 L205.76,365.76 L207.42,368.59 L209.09,371.39 L210.77,374.17 L212.46,376.92 L214.15,379.65 L215.85,382.34 L217.56,385.01 L219.28,387.65 L221.01,390.25 L222.74,392.83 L224.48,395.38 L226.23,397.89 L227.99,400.37 L229.75,402.82 L231.52,405.24 L233.30,407.63 L235.09,409.98 L236.89,412.30 L238.69,414.59 L240.50,416.84 L242.32,419.06 L244.15,421.25 L245.98,423.40 L247.83,425.52 L249.68,427.61 L251.53,429.66 L253.40,431.68 L255.27,433.66 L257.15,435.61 L259.04,437.53 L260.93,439.42 L262.83,441.29 L264.74,443.13 L266.66,444.94 L268.58,446.73 L270.52,448.49 L272.46,450.23 L274.40,451.94 L276.36,453.63 L278.32,455.28 L280.28,456.92 L282.26,458.52 L284.24,460.10 L286.23,461.66 L288.23,463.19 L290.23,464.69 L292.25,466.17 L294.26,467.62 L296.29,469.05 L298.32,470.45 L300.36,471.83 L302.41,473.18 L304.46,474.51 L306.53,475.81 L308.59,477.09 L310.67,478.34 L312.75,479.57 L314.84,480.78 L316.94,481.97 L319.04,483.13 L321.15,484.26 L323.27,485.38 L325.39,486.47 L327.52,487.54 L329.66,488.59 L331.81,489.61 L333.96,490.63 L336.12,491.62 L338.28,492.61 L340.45,493.57 L342.63,494.52 L344.82,495.45 L347.01,496.37 L349.21,497.27 L351.41,498.15 L353.63,499.02 L355.85,499.87 L358.07,500.70 L360.31,501.52 L362.54,502.32 L364.79,503.11 L367.04,503.88 L369.30,504.63 L371.57,505.37 L373.84,506.09 L376.12,506.80 L378.41,507.49 L380.70,508.17 L383.00,508.83 L385.30,509.47 L387.61,510.10 L389.93,510.72 L392.26,511.32 L394.59,511.91 L396.93,512.48 L399.27,513.04 L401.62,513.58 L403.98,514.11 L406.34,514.63 L408.71,515.13 L411.09,515.62 L413.47,516.10 L415.86,516.56 L418.26,517.02 L420.66,517.46 L423.07,517.89 L425.48,518.32 L427.91,518.73 L430.33,519.14 L432.77,519.54 L435.21,519.93 L437.65,520.31 L440.11,520.68 L442.57,521.05 L445.03,521.40 L447.50,521.75 L449.98,522.09 L452.46,522.43 L454.95,522.75 L457.45,523.07 L459.95,523.39 L462.46,523.69 L464.98,523.99 L467.50,524.28 L470.03,524.57 L472.56,524.85 L475.10,525.12 L477.64,525.39 L480.20,525.65 L482.75,525.91 L485.32,526.16 L487.89,526.40 L490.46,526.64 L493.05,526.87 L495.64,527.10 L498.23,527.33 L500.83,527.54 L503.44,527.76 L506.05,527.96 L508.67,528.16 L511.29,528.36 L513.92,528.55 L516.56,528.73 L519.20,528.91 L521.85,529.09 L524.50,529.26 L527.16,529.43 L529.83,529.60 L532.50,529.76 L535.18,529.92 L537.86,530.08 L540.55,530.23 L543.25,530.38 L545.95,530.53 L548.66,530.68 L551.37,530.83 L554.09,530.97 L556.82,531.12 L559.55,531.26 L562.29,531.40 L565.03,531.54 L567.78,531.68 L570.53,531.82 L573.29,531.96 L576.06,532.10 L578.83,532.24 L581.61,532.38 L584.39,532.52 L587.18,532.66 L589.97,532.80 L592.77,532.93 L595.58,533.07 L598.39,533.20 L601.21,533.33 L604.03,533.46 L606.86,533.59 L609.70,533.71 L612.54,533.84 L615.38,533.96 L618.24,534.08 L621.09,534.20 L623.96,534.32 L626.83,534.44 L629.70,534.56 L632.58,534.67 L635.47,534.78 L638.36,534.90 L641.26,535.01 L644.16,535.12 L647.07,535.23 L649.98,535.33 L652.90,535.44 L655.82,535.54 L658.76,535.65 L661.69,535.75 L664.63,535.85 L667.58,535.95 L670.53,536.05 L673.49,536.14 L676.46,536.24 L679.43,536.33 L682.40,536.43 L685.38,536.52 L688.37,536.61 L691.36,536.70 L694.36,536.79 L697.36,536.88 L700.37,536.96 L703.38,537.05 L706.40,537.13 L709.42,537.21 L712.45,537.30 L715.49,537.38 L718.53,537.46 L721.58,537.54 L724.63,537.62 L727.68,537.69 L730.75,537.77 L733.81,537.84 L736.89,537.92 L739.97,537.99 L743.05,538.06 L746.14,538.14 L749.23,538.21 L752.33,538.28 L755.44,538.34 L758.55,538.40 L761.67,538.47 L764.79,538.53 L767.92,538.59 L771.05,538.65 L774.19,538.71 L777.33,538.77 L780.48,538.83 L783.63,538.89 L786.79,538.95 L789.95,539.00 L793.12,539.06 L796.30,539.11 L799.48,539.17 L802.66,539.22 L805.85,539.27 L809.05,539.33 L812.25,539.38 L815.46,539.43 L818.67,539.48 L821.89,539.53 L825.11,539.58 L828.34,539.63 L831.57,539.68 L834.81,539.73 L838.05,539.78 L841.30,539.83 L844.55,539.88 L847.81,539.92 L851.07,539.97 L854.34,540.02 L857.62,540.06 L860.89,540.11 L864.18,540.15 L867.47,540.20 L870.76,540.24 L874.06,540.29 L877.37,540.33 L880.68,540.38 L883.99,540.42 L887.31,540.47 L890.64,540.51 L893.97,540.55 L897.31,540.60 L900.65,540.64 L903.99,540.68 L907.34,540.73 L910.70,540.77 L914.06,540.81 L917.43,540.86 L920.80,540.90" stroke="#0000ff" stroke-width="2.8" stroke-dasharray="3.6 2.3" fill="none"/>
<path d="M79.40,16.80 L79.46,17.02 L79.58,17.48 L79.74,18.10 L79.93,18.86 L80.16,19.74 L80.42,20.73 L80.70,21.83 L81.02,23.02 L81.35,24.30 L81.71,25.66 L82.09,27.10 L82.49,28.62 L82.91,30.22 L83.36,31.88 L83.82,33.61 L84.30,35.40 L84.80,37.25 L85.31,39.16 L85.85,41.13 L86.40,43.15 L86.97,45.22 L87.55,47.35 L88.15,49.52 L88.77,51.74 L89.40,54.00 L90.05,56.30 L90.71,58.65 L91.39,61.04 L92.08,63.46 L92.79,65.92 L93.51,68.41 L94.25,70.94 L95.00,73.50 L95.76,76.09 L96.54,78.71 L97.33,81.36 L98.13,84.04 L98.95,86.74 L99.78,89.46 L100.62,92.21 L101.47,94.98 L102.34,97.77 L103.22,100.58 L104.12,103.41 L105.02,106.26 L105.94,109.12 L106.87,112.00 L107.81,114.89 L108.76,117.79 L109.72,120.71 L110.70,123.64 L111.69,126.57 L112.69,129.50 L113.70,132.43 L114.72,135.37 L115.75,138.31 L116.80,141.25 L117.85,144.19 L118.92,147.13 L120.00,150.08 L121.08,153.02 L122.18,155.97 L123.29,158.92 L124.41,161.87 L125.54,164.83 L126.68,167.78 L127.84,170.74 L129.00,173.70 L130.17,176.67 L131.35,179.64 L132.54,182.62 L133.75,185.60 L134.96,188.58 L136.18,191.57 L137.42,194.57 L138.66,197.58 L139.91,200.59 L141.17,203.61 L142.44,206.64 L143.73,209.68 L145.02,212.72 L146.32,215.78 L147.63,218.85 L148.95,221.94 L150.28,225.03 L151.62,228.14 L152.97,231.24 L154.32,234.35 L155.69,237.46 L157.07,240.56 L158.45,243.66 L159.85,246.76 L161.25,249.85 L162.66,252.94 L164.08,256.03 L165.52,259.11 L166.95,262.19 L168.40,265.26 L169.86,268.32 L171.33,271.38 L172.80,274.43 L174.29,277.48 L175.78,280.51 L177.28,283.54 L178.79,286.56 L180.31,289.56 L181.84,292.56 L183.37,295.55 L184.92,298.53 L186.47,301.50 L188.03,304.45 L189.60,307.40 L191.18,310.33 L192.77,313.25 L194.36,316.16 L195.97,319.05 L197.58,321.93 L199.20,324.79 L200.83,327.65 L202.47,330.48 L204.11,333.30 L205.76,336.12 L207.42,338.92 L209.09,341.71 L210.77,344.49 L212.46,347.26 L214.15,350.01 L215.85,352.75 L217.56,355.47 L219.28,358.17 L221.01,360.86 L222.74,363.53 L224.48,366.18 L226.23,368.81 L227.99,371.42 L229.75,374.01 L231.52,376.58 L233.30,379.12 L235.09,381.64 L236.89,384.14 L238.69,386.62 L240.50,389.07 L242.32,391.49 L244.15,393.89 L245.98,396.27 L247.83,398.62 L249.68,400.94 L251.53,403.23 L253.40,405.50 L255.27,407.73 L257.15,409.94 L259.04,412.12 L260.93,414.28 L262.83,416.40 L264.74,418.49 L266.66,420.56 L268.58,422.59 L270.52,424.60 L272.46,426.58 L274.40,428.52 L276.36,430.44 L278.32,432.32 L280.28,434.18 L282.26,436.00 L284.24,437.80 L286.23,439.56 L288.23,441.30 L290.23,443.02 L292.25,444.70 L294.26,446.37 L296.29,448.01 L298.32,449.62 L300.36,451.21 L302.41,452.78 L304.46,454.33 L306.53,455.86 L308.59,457.37 L310.67,458.85 L312.75,460.32 L314.84,461.77 L316.94,463.20 L319.04,464.62 L321.15,466.01 L323.27,467.39 L325.39,468.76 L327.52,470.11 L329.66,471.44 L331.81,472.76 L333.96,474.07 L336.12,475.37 L338.28,476.66 L340.45,477.94 L342.63,479.21 L344.82,480.45 L347.01,481.67 L349.21,482.87 L351.41,484.05 L353.63,485.19 L355.85,486.30 L358.07,487.39 L360.31,488.43 L362.54,489.45 L364.79,490.45 L367.04,491.43 L369.30,492.39 L371.57,493.33 L373.84,494.26 L376.12,495.16 L378.41,496.05 L380.70,496.91 L383.00,497.76 L385.30,498.59 L387.61,499.41 L389.93,500.20 L392.26,500.98 L394.59,501.74 L396.93,502.48 L399.27,503.21 L401.62,503.92 L403.98,504.62 L406.34,505.30 L408.71,505.96 L411.09,506.61 L413.47,507.24 L415.86,507.86 L418.26,508.46 L420.66,509.05 L423.07,509.63 L425.48,510.19 L427.91,510.75 L430.33,511.29 L432.77,511.82 L435.21,512.34 L437.65,512.85 L440.11,513.34 L442.57,513.83 L445.03,514.31 L447.50,514.78 L449.98,515.24 L452.46,515.69 L454.95,516.13 L457.45,516.57 L459.95,516.99 L462.46,517.41 L464.98,517.82 L467.50,518.22 L470.03,518.62 L472.56,519.01 L475.10,519.39 L477.64,519.76 L480.20,520.13 L482.75,520.49 L485.32,520.85 L487.89,521.20 L490.46,521.54 L493.05,521.88 L495.64,522.21 L498.23,522.53 L500.83,522.86 L503.44,523.17 L506.05,523.48 L508.67,523.79 L511.29,524.09 L513.92,524.38 L516.56,524.67 L519.20,524.96 L521.85,525.24 L524.50,525.51 L527.16,525.78 L529.83,526.04 L532.50,526.30 L535.18,526.56 L537.86,526.81 L540.55,527.06 L543.25,527.30 L545.95,527.54 L548.66,527.77 L551.37,528.00 L554.09,528.22 L556.82,528.44 L559.55,528.66 L562.29,528.87 L565.03,529.08 L567.78,529.28 L570.53,529.48 L573.29,529.68 L576.06,529.87 L578.83,530.06 L581.61,530.25 L584.39,530.43 L587.18,530.61 L589.97,530.78 L592.77,530.96 L595.58,531.13 L598.39,531.29 L601.21,531.46 L604.03,531.62 L606.86,531.78 L609.70,531.94 L612.54,532.09 L615.38,532.25 L618.24,532.40 L621.09,532.54 L623.96,532.69 L626.83,532.83 L629.70,532.97 L632.58,533.11 L635.47,533.25 L638.36,533.38 L641.26,533.51 L644.16,533.64 L647.07,533.77 L649.98,533.90 L652.90,534.02 L655.82,534.14 L658.76,534.26 L661.69,534.38 L664.63,534.50 L667.58,534.61 L670.53,534.73 L673.49,534.84 L676.46,534.95 L679.43,535.06 L682.40,535.16 L685.38,535.27 L688.37,535.37 L691.36,535.47 L694.36,535.57 L697.36,535.67 L700.37,535.77 L703.38,535.86 L706.40,535.96 L709.42,536.05 L712.45,536.14 L715.49,536.23 L718.53,536.32 L721.58,536.41 L724.63,536.50 L727.68,536.58 L730.75,536.67 L733.81,536.75 L736.89,536.83 L739.97,536.91 L743.05,536.99 L746.14,537.07 L749.23,537.15 L752.33,537.23 L755.44,537.31 L758.55,537.39 L761.67,537.47 L764.79,537.55 L767.92,537.63 L771.05,537.71 L774.19,537.79 L777.33,537.87 L780.48,537.95 L783.63,538.02 L786.79,538.10 L789.95,538.17 L793.12,538.25 L796.30,538.32 L799.48,538.40 L802.66,538.47 L805.85,538.54 L809.05,538.61 L812.25,538.68 L815.46,538.75 L818.67,538.82 L821.89,538.89 L825.11,538.96 L828.34,539.03 L831.57,539.10 L834.81,539.17 L838.05,539.24 L841.30,539.31 L844.55,539.37 L847.81,539.44 L851.07,539.51 L854.34,539.57 L857.62,539.64 L860.89,539.71 L864.18,539.77 L867.47,539.84 L870.76,539.91 L874.06,539.97 L877.37,540.04 L880.68,540.10 L883.99,540.17 L887.31,540.23 L890.64,540.30 L893.97,540.37 L897.31,540.43 L900.65,540.50 L903.99,540.57 L907.34,540.63 L910.70,540.70 L914.06,540.77 L917.43,540.83 L920.80,540.90" stroke="#0000ff" stroke-width="2.8" stroke-dasharray="3.6 2.3" fill="none"/>
<path d="M79.40,16.80 L79.46,17.00 L79.58,17.41 L79.74,17.97 L79.93,18.65 L80.16,19.44 L80.42,20.33 L80.70,21.31 L81.02,22.38 L81.35,23.53 L81.71,24.75 L82.09,26.05 L82.49,27.42 L82.91,28.85 L83.36,30.34 L83.82,31.89 L84.30,33.50 L84.80,35.16 L85.31,36.88 L85.85,38.65 L86.40,40.46 L86.97,42.33 L87.55,44.23 L88.15,46.18 L88.77,48.18 L89.40,50.21 L90.05,52.28 L90.71,54.39 L91.39,56.53 L92.08,58.71 L92.79,60.92 L93.51,63.16 L94.25,65.43 L95.00,67.73 L95.76,70.06 L96.54,72.41 L97.33,74.79 L98.13,77.20 L98.95,79.62 L99.78,82.07 L100.62,84.54 L101.47,87.02 L102.34,89.53 L103.22,92.05 L104.12,94.59 L105.02,97.15 L105.94,99.71 L106.87,102.30 L107.81,104.89 L108.76,107.50 L109.72,110.11 L110.70,112.74 L111.69,115.37 L112.69,118.01 L113.70,120.66 L114.72,123.32 L115.75,125.97 L116.80,128.61 L117.85,131.25 L118.92,133.88 L120.00,136.52 L121.08,139.14 L122.18,141.76 L123.29,144.38 L124.41,147.00 L125.54,149.61 L126.68,152.22 L127.84,154.83 L129.00,157.43 L130.17,160.04 L131.35,162.64 L132.54,165.25 L133.75,167.85 L134.96,170.46 L136.18,173.07 L137.42,175.68 L138.66,178.30 L139.91,180.92 L141.17,183.55 L142.44,186.18 L143.73,188.83 L145.02,191.48 L146.32,194.14 L147.63,196.81 L148.95,199.49 L150.28,202.19 L151.62,204.89 L152.97,207.62 L154.32,210.36 L155.69,213.11 L157.07,215.89 L158.45,218.68 L159.85,221.49 L161.25,224.33 L162.66,227.18 L164.08,230.06 L165.52,232.94 L166.95,235.83 L168.40,238.73 L169.86,241.65 L171.33,244.56 L172.80,247.49 L174.29,250.42 L175.78,253.35 L177.28,256.28 L178.79,259.22 L180.31,262.16 L181.84,265.09 L183.37,268.03 L184.92,270.96 L186.47,273.89 L188.03,276.81 L189.60,279.72 L191.18,282.63 L192.77,285.53 L194.36,288.43 L195.97,291.31 L197.58,294.18 L199.20,297.04 L200.83,299.88 L202.47,302.71 L204.11,305.53 L205.76,308.32 L207.42,311.11 L209.09,313.87 L210.77,316.62 L212.46,319.34 L214.15,322.05 L215.85,324.74 L217.56,327.40 L219.28,330.04 L221.01,332.66 L222.74,335.27 L224.48,337.86 L226.23,340.45 L227.99,343.02 L229.75,345.58 L231.52,348.12 L233.30,350.65 L235.09,353.17 L236.89,355.67 L238.69,358.15 L240.50,360.62 L242.32,363.07 L244.15,365.50 L245.98,367.92 L247.83,370.31 L249.68,372.69 L251.53,375.04 L253.40,377.38 L255.27,379.69 L257.15,381.99 L259.04,384.26 L260.93,386.51 L262.83,388.74 L264.74,390.94 L266.66,393.12 L268.58,395.28 L270.52,397.42 L272.46,399.53 L274.40,401.61 L276.36,403.67 L278.32,405.71 L280.28,407.72 L282.26,409.71 L284.24,411.67 L286.23,413.61 L288.23,415.52 L290.23,417.41 L292.25,419.27 L294.26,421.10 L296.29,422.91 L298.32,424.69 L300.36,426.44 L302.41,428.17 L304.46,429.88 L306.53,431.55 L308.59,433.20 L310.67,434.83 L312.75,436.42 L314.84,437.98 L316.94,439.51 L319.04,441.00 L321.15,442.47 L323.27,443.92 L325.39,445.37 L327.52,446.81 L329.66,448.25 L331.81,449.70 L333.96,451.15 L336.12,452.61 L338.28,454.06 L340.45,455.51 L342.63,456.95 L344.82,458.39 L347.01,459.82 L349.21,461.23 L351.41,462.64 L353.63,464.03 L355.85,465.40 L358.07,466.76 L360.31,468.11 L362.54,469.43 L364.79,470.74 L367.04,472.02 L369.30,473.29 L371.57,474.53 L373.84,475.75 L376.12,476.95 L378.41,478.12 L380.70,479.27 L383.00,480.39 L385.30,481.49 L387.61,482.56 L389.93,483.60 L392.26,484.62 L394.59,485.61 L396.93,486.57 L399.27,487.51 L401.62,488.41 L403.98,489.29 L406.34,490.12 L408.71,490.93 L411.09,491.72 L413.47,492.50 L415.86,493.28 L418.26,494.06 L420.66,494.84 L423.07,495.60 L425.48,496.36 L427.91,497.10 L430.33,497.84 L432.77,498.57 L435.21,499.29 L437.65,500.00 L440.11,500.70 L442.57,501.39 L445.03,502.07 L447.50,502.75 L449.98,503.41 L452.46,504.06 L454.95,504.71 L457.45,505.34 L459.95,505.97 L462.46,506.59 L464.98,507.19 L467.50,507.79 L470.03,508.38 L472.56,508.96 L475.10,509.53 L477.64,510.09 L480.20,510.64 L482.75,511.18 L485.32,511.71 L487.89,512.24 L490.46,512.75 L493.05,513.26 L495.64,513.76 L498.23,514.24 L500.83,514.72 L503.44,515.20 L506.05,515.66 L508.67,516.12 L511.29,516.57 L513.92,517.02 L516.56,517.46 L519.20,517.89 L521.85,518.31 L524.50,518.73 L527.16,519.14 L529.83,519.55 L532.50,519.95 L535.18,520.34 L537.86,520.72 L540.55,521.10 L543.25,521.47 L545.95,521.83 L548.66,522.19 L551.37,522.54 L554.09,522.88 L556.82,523.22 L559.55,523.55 L562.29,523.88 L565.03,524.19 L567.78,524.50 L570.53,524.81 L573.29,525.11 L576.06,525.40 L578.83,525.69 L581.61,525.97 L584.39,526.24 L587.18,526.51 L589.97,526.77 L592.77,527.03 L595.58,527.29 L598.39,527.54 L601.21,527.79 L604.03,528.03 L606.86,528.27 L609.70,528.50 L612.54,528.73 L615.38,528.96 L618.24,529.18 L621.09,529.40 L623.96,529.62 L626.83,529.83 L629.70,530.04 L632.58,530.24 L635.47,530.44 L638.36,530.64 L641.26,530.84 L644.16,531.03 L647.07,531.22 L649.98,531.40 L652.90,531.58 L655.82,531.76 L658.76,531.94 L661.69,532.11 L664.63,532.28 L667.58,532.45 L670.53,532.61 L673.49,532.77 L676.46,532.93 L679.43,533.09 L682.40,533.24 L685.38,533.39 L688.37,533.54 L691.36,533.69 L694.36,533.83 L697.36,533.97 L700.37,534.11 L703.38,534.25 L706.40,534.38 L709.42,534.52 L712.45,534.65 L715.49,534.78 L718.53,534.90 L721.58,535.03 L724.63,535.15 L727.68,535.27 L730.75,535.39 L733.81,535.51 L736.89,535.62 L739.97,535.74 L743.05,535.85 L746.14,535.96 L749.23,536.07 L752.33,536.18 L755.44,536.29 L758.55,536.40 L761.67,536.51 L764.79,536.63 L767.92,536.73 L771.05,536.84 L774.19,536.95 L777.33,537.05 L780.48,537.16 L783.63,537.26 L786.79,537.36 L789.95,537.46 L793.12,537.56 L796.30,537.66 L799.48,537.76 L802.66,537.85 L805.85,537.95 L809.05,538.04 L812.25,538.14 L815.46,538.23 L818.67,538.32 L821.89,538.41 L825.11,538.50 L828.34,538.59 L831.57,538.68 L834.81,538.77 L838.05,538.85 L841.30,538.94 L844.55,539.03 L847.81,539.11 L851.07,539.20 L854.34,539.28 L857.62,539.37 L860.89,539.45 L864.18,539.53 L867.47,539.61 L870.76,539.70 L874.06,539.78 L877.37,539.86 L880.68,539.94 L883.99,540.02 L887.31,540.10 L890.64,540.18 L893.97,540.26 L897.31,540.34 L900.65,540.42 L903.99,540.50 L907.34,540.58 L910.70,540.66 L914.06,540.74 L917.43,540.82 L920.80,540.90" stroke="#0000ff" stroke-width="2.8" stroke-dasharray="3.6 2.3" fill="none"/>
<path d="M79.40,16.80 L79.46,16.95 L79.58,17.26 L79.74,17.68 L79.93,18.19 L80.16,18.78 L80.42,19.45 L80.70,20.19 L81.02,21.00 L81.35,21.86 L81.71,22.79 L82.09,23.77 L82.49,24.80 L82.91,25.89 L83.36,27.02 L83.82,28.21 L84.30,29.43 L84.80,30.71 L85.31,32.02 L85.85,33.38 L86.40,34.78 L86.97,36.21 L87.55,37.69 L88.15,39.20 L88.77,40.75 L89.40,42.33 L90.05,43.94 L90.71,45.59 L91.39,47.28 L92.08,48.99 L92.79,50.73 L93.51,52.51 L94.25,54.31 L95.00,56.14 L95.76,58.00 L96.54,59.89 L97.33,61.80 L98.13,63.74 L98.95,65.70 L99.78,67.69 L100.62,69.70 L101.47,71.73 L102.34,73.79 L103.22,75.86 L104.12,77.96 L105.02,80.08 L105.94,82.22 L106.87,84.38 L107.81,86.56 L108.76,88.76 L109.72,90.98 L110.70,93.21 L111.69,95.46 L112.69,97.73 L113.70,100.01 L114.72,102.31 L115.75,104.62 L116.80,106.95 L117.85,109.29 L118.92,111.64 L120.00,114.01 L121.08,116.39 L122.18,118.79 L123.29,121.19 L124.41,123.61 L125.54,126.03 L126.68,128.46 L127.84,130.90 L129.00,133.34 L130.17,135.79 L131.35,138.24 L132.54,140.70 L133.75,143.17 L134.96,145.64 L136.18,148.12 L137.42,150.60 L138.66,153.09 L139.91,155.58 L141.17,158.08 L142.44,160.58 L143.73,163.09 L145.02,165.60 L146.32,168.12 L147.63,170.64 L148.95,173.17 L150.28,175.70 L151.62,178.24 L152.97,180.79 L154.32,183.33 L155.69,185.89 L157.07,188.45 L158.45,191.01 L159.85,193.58 L161.25,196.16 L162.66,198.74 L164.08,201.32 L165.52,203.92 L166.95,206.51 L168.40,209.12 L169.86,211.73 L171.33,214.34 L172.80,216.96 L174.29,219.59 L175.78,222.22 L177.28,224.86 L178.79,227.51 L180.31,230.16 L181.84,232.82 L183.37,235.47 L184.92,238.13 L186.47,240.80 L188.03,243.46 L189.60,246.13 L191.18,248.79 L192.77,251.46 L194.36,254.12 L195.97,256.78 L197.58,259.44 L199.20,262.10 L200.83,264.76 L202.47,267.41 L204.11,270.05 L205.76,272.69 L207.42,275.33 L209.09,277.96 L210.77,280.58 L212.46,283.20 L214.15,285.80 L215.85,288.40 L217.56,290.99 L219.28,293.57 L221.01,296.14 L222.74,298.70 L224.48,301.25 L226.23,303.79 L227.99,306.31 L229.75,308.83 L231.52,311.33 L233.30,313.81 L235.09,316.29 L236.89,318.74 L238.69,321.19 L240.50,323.62 L242.32,326.03 L244.15,328.43 L245.98,330.81 L247.83,333.18 L249.68,335.53 L251.53,337.88 L253.40,340.22 L255.27,342.55 L257.15,344.86 L259.04,347.17 L260.93,349.46 L262.83,351.74 L264.74,354.01 L266.66,356.26 L268.58,358.50 L270.52,360.73 L272.46,362.94 L274.40,365.13 L276.36,367.31 L278.32,369.48 L280.28,371.63 L282.26,373.76 L284.24,375.87 L286.23,377.97 L288.23,380.05 L290.23,382.12 L292.25,384.16 L294.26,386.19 L296.29,388.19 L298.32,390.18 L300.36,392.15 L302.41,394.11 L304.46,396.04 L306.53,397.95 L308.59,399.84 L310.67,401.71 L312.75,403.56 L314.84,405.40 L316.94,407.21 L319.04,409.00 L321.15,410.77 L323.27,412.51 L325.39,414.24 L327.52,415.95 L329.66,417.63 L331.81,419.30 L333.96,420.94 L336.12,422.56 L338.28,424.16 L340.45,425.74 L342.63,427.31 L344.82,428.86 L347.01,430.39 L349.21,431.91 L351.41,433.41 L353.63,434.91 L355.85,436.39 L358.07,437.86 L360.31,439.31 L362.54,440.74 L364.79,442.16 L367.04,443.56 L369.30,444.94 L371.57,446.31 L373.84,447.67 L376.12,449.01 L378.41,450.34 L380.70,451.65 L383.00,452.95 L385.30,454.24 L387.61,455.51 L389.93,456.77 L392.26,458.02 L394.59,459.25 L396.93,460.48 L399.27,461.69 L401.62,462.90 L403.98,464.09 L406.34,465.27 L408.71,466.44 L411.09,467.60 L413.47,468.75 L415.86,469.89 L418.26,471.03 L420.66,472.17 L423.07,473.32 L425.48,474.46 L427.91,475.60 L430.33,476.72 L432.77,477.84 L435.21,478.94 L437.65,480.02 L440.11,481.08 L442.57,482.12 L445.03,483.13 L447.50,484.12 L449.98,485.07 L452.46,486.00 L454.95,486.89 L457.45,487.75 L459.95,488.57 L462.46,489.35 L464.98,490.10 L467.50,490.83 L470.03,491.53 L472.56,492.20 L475.10,492.86 L477.64,493.51 L480.20,494.14 L482.75,494.77 L485.32,495.39 L487.89,496.01 L490.46,496.63 L493.05,497.25 L495.64,497.87 L498.23,498.51 L500.83,499.15 L503.44,499.80 L506.05,500.45 L508.67,501.09 L511.29,501.73 L513.92,502.37 L516.56,503.00 L519.20,503.63 L521.85,504.26 L524.50,504.88 L527.16,505.50 L529.83,506.11 L532.50,506.72 L535.18,507.32 L537.86,507.91 L540.55,508.50 L543.25,509.08 L545.95,509.65 L548.66,510.22 L551.37,510.78 L554.09,511.33 L556.82,511.87 L559.55,512.40 L562.29,512.93 L565.03,513.45 L567.78,513.95 L570.53,514.45 L573.29,514.94 L576.06,515.43 L578.83,515.90 L581.61,516.36 L584.39,516.82 L587.18,517.26 L589.97,517.70 L592.77,518.13 L595.58,518.56 L598.39,518.98 L601.21,519.39 L604.03,519.80 L606.86,520.20 L609.70,520.60 L612.54,520.98 L615.38,521.37 L618.24,521.74 L621.09,522.11 L623.96,522.48 L626.83,522.84 L629.70,523.19 L632.58,523.54 L635.47,523.88 L638.36,524.22 L641.26,524.55 L644.16,524.88 L647.07,525.20 L649.98,525.52 L652.90,525.83 L655.82,526.14 L658.76,526.44 L661.69,526.74 L664.63,527.03 L667.58,527.32 L670.53,527.60 L673.49,527.88 L676.46,528.16 L679.43,528.43 L682.40,528.70 L685.38,528.96 L688.37,529.22 L691.36,529.47 L694.36,529.72 L697.36,529.97 L700.37,530.21 L703.38,530.45 L706.40,530.69 L709.42,530.92 L712.45,531.15 L715.49,531.37 L718.53,531.59 L721.58,531.81 L724.63,532.02 L727.68,532.23 L730.75,532.44 L733.81,532.65 L736.89,532.85 L739.97,533.05 L743.05,533.24 L746.14,533.44 L749.23,533.63 L752.33,533.81 L755.44,534.00 L758.55,534.18 L761.67,534.35 L764.79,534.53 L767.92,534.70 L771.05,534.87 L774.19,535.04 L777.33,535.21 L780.48,535.37 L783.63,535.53 L786.79,535.69 L789.95,535.85 L793.12,536.00 L796.30,536.15 L799.48,536.30 L802.66,536.45 L805.85,536.60 L809.05,536.74 L812.25,536.89 L815.46,537.03 L818.67,537.17 L821.89,537.30 L825.11,537.44 L828.34,537.57 L831.57,537.71 L834.81,537.84 L838.05,537.97 L841.30,538.10 L844.55,538.23 L847.81,538.35 L851.07,538.48 L854.34,538.60 L857.62,538.72 L860.89,538.85 L864.18,538.97 L867.47,539.09 L870.76,539.21 L874.06,539.32 L877.37,539.44 L880.68,539.56 L883.99,539.67 L887.31,539.79 L890.64,539.90 L893.97,540.01 L897.31,540.13 L900.65,540.24 L903.99,540.35 L907.34,540.46 L910.70,540.57 L914.06,540.68 L917.43,540.79 L920.80,540.90" stroke="#0000ff" stroke-width="2.8" stroke-dasharray="3.6 2.3" fill="none"/>
<path d="M79.40,16.80 L79.46,17.33 L79.58,18.41 L79.74,19.87 L79.93,21.65 L80.16,23.72 L80.42,26.04 L80.70,28.59 L81.02,31.35 L81.35,34.30 L81.71,37.44 L82.09,40.74 L82.49,44.20 L82.91,47.81 L83.36,51.55 L83.82,55.42 L84.30,59.41 L84.80,63.51 L85.31,67.70 L85.85,72.00 L86.40,76.37 L86.97,80.83 L87.55,85.36 L88.15,89.95 L88.77,94.61 L89.40,99.32 L90.05,104.07 L90.71,108.87 L91.39,113.70 L92.08,118.56 L92.79,123.45 L93.51,128.33 L94.25,133.20 L95.00,138.05 L95.76,142.90 L96.54,147.74 L97.33,152.57 L98.13,157.40 L98.95,162.22 L99.78,167.05 L100.62,171.88 L101.47,176.72 L102.34,181.58 L103.22,186.45 L104.12,191.35 L105.02,196.28 L105.94,201.25 L106.87,206.25 L107.81,211.31 L108.76,216.41 L109.72,221.58 L110.70,226.81 L111.69,232.09 L112.69,237.41 L113.70,242.77 L114.72,248.14 L115.75,253.53 L116.80,258.93 L117.85,264.33 L118.92,269.72 L120.00,275.09 L121.08,280.44 L122.18,285.76 L123.29,291.04 L124.41,296.28 L125.54,301.46 L126.68,306.59 L127.84,311.65 L129.00,316.64 L130.17,321.56 L131.35,326.39 L132.54,331.13 L133.75,335.80 L134.96,340.39 L136.18,344.90 L137.42,349.34 L138.66,353.72 L139.91,358.02 L141.17,362.26 L142.44,366.43 L143.73,370.54 L145.02,374.58 L146.32,378.56 L147.63,382.48 L148.95,386.34 L150.28,390.14 L151.62,393.88 L152.97,397.57 L154.32,401.20 L155.69,404.77 L157.07,408.29 L158.45,411.76 L159.85,415.18 L161.25,418.54 L162.66,421.85 L164.08,425.12 L165.52,428.33 L166.95,431.50 L168.40,434.62 L169.86,437.69 L171.33,440.72 L172.80,443.71 L174.29,446.66 L175.78,449.55 L177.28,452.40 L178.79,455.19 L180.31,457.92 L181.84,460.59 L183.37,463.21 L184.92,465.76 L186.47,468.24 L188.03,470.67 L189.60,473.02 L191.18,475.32 L192.77,477.54 L194.36,479.70 L195.97,481.79 L197.58,483.81 L199.20,485.76 L200.83,487.65 L202.47,489.48 L204.11,491.27 L205.76,493.02 L207.42,494.74 L209.09,496.40 L210.77,498.02 L212.46,499.59 L214.15,501.12 L215.85,502.58 L217.56,504.00 L219.28,505.36 L221.01,506.66 L222.74,507.91 L224.48,509.11 L226.23,510.24 L227.99,511.33 L229.75,512.35 L231.52,513.33 L233.30,514.25 L235.09,515.11 L236.89,515.95 L238.69,516.76 L240.50,517.55 L242.32,518.30 L244.15,519.03 L245.98,519.73 L247.83,520.41 L249.68,521.06 L251.53,521.68 L253.40,522.28 L255.27,522.85 L257.15,523.39 L259.04,523.92 L260.93,524.41 L262.83,524.88 L264.74,525.33 L266.66,525.76 L268.58,526.16 L270.52,526.54 L272.46,526.90 L274.40,527.24 L276.36,527.56 L278.32,527.87 L280.28,528.16 L282.26,528.45 L284.24,528.72 L286.23,528.98 L288.23,529.23 L290.23,529.47 L292.25,529.71 L294.26,529.93 L296.29,530.14 L298.32,530.35 L300.36,530.55 L302.41,530.74 L304.46,530.92 L306.53,531.09 L308.59,531.26 L310.67,531.42 L312.75,531.57 L314.84,531.72 L316.94,531.86 L319.04,531.99 L321.15,532.12 L323.27,532.24 L325.39,532.35 L327.52,532.46 L329.66,532.57 L331.81,532.67 L333.96,532.77 L336.12,532.86 L338.28,532.96 L340.45,533.05 L342.63,533.14 L344.82,533.23 L347.01,533.32 L349.21,533.41 L351.41,533.50 L353.63,533.59 L355.85,533.68 L358.07,533.77 L360.31,533.86 L362.54,533.96 L364.79,534.06 L367.04,534.16 L369.30,534.26 L371.57,534.36 L373.84,534.46 L376.12,534.56 L378.41,534.67 L380.70,534.77 L383.00,534.87 L385.30,534.97 L387.61,535.07 L389.93,535.17 L392.26,535.27 L394.59,535.37 L396.93,535.47 L399.27,535.56 L401.62,535.66 L403.98,535.75 L406.34,535.84 L408.71,535.93 L411.09,536.01 L413.47,536.10 L415.86,536.18 L418.26,536.26 L420.66,536.34 L423.07,536.42 L425.48,536.49 L427.91,536.57 L430.33,536.64 L432.77,536.72 L435.21,536.79 L437.65,536.86 L440.11,536.93 L442.57,537.00 L445.03,537.07 L447.50,537.14 L449.98,537.20 L452.46,537.27 L454.95,537.33 L457.45,537.39 L459.95,537.46 L462.46,537.52 L464.98,537.58 L467.50,537.63 L470.03,537.69 L472.56,537.75 L475.10,537.80 L477.64,537.86 L480.20,537.91 L482.75,537.96 L485.32,538.01 L487.89,538.06 L490.46,538.11 L493.05,538.16 L495.64,538.20 L498.23,538.25 L500.83,538.29 L503.44,538.34 L506.05,538.38 L508.67,538.42 L511.29,538.46 L513.92,538.50 L516.56,538.54 L519.20,538.58 L521.85,538.61 L524.50,538.65 L527.16,538.69 L529.83,538.72 L532.50,538.76 L535.18,538.79 L537.86,538.83 L540.55,538.86 L543.25,538.89 L545.95,538.92 L548.66,538.96 L551.37,538.99 L554.09,539.02 L556.82,539.05 L559.55,539.08 L562.29,539.11 L565.03,539.14 L567.78,539.16 L570.53,539.19 L573.29,539.22 L576.06,539.25 L578.83,539.28 L581.61,539.30 L584.39,539.33 L587.18,539.36 L589.97,539.38 L592.77,539.41 L595.58,539.43 L598.39,539.46 L601.21,539.48 L604.03,539.51 L606.86,539.53 L609.70,539.55 L612.54,539.58 L615.38,539.60 L618.24,539.62 L621.09,539.65 L623.96,539.67 L626.83,539.69 L629.70,539.71 L632.58,539.73 L635.47,539.75 L638.36,539.77 L641.26,539.79 L644.16,539.81 L647.07,539.83 L649.98,539.85 L652.90,539.87 L655.82,539.89 L658.76,539.91 L661.69,539.93 L664.63,539.94 L667.58,539.96 L670.53,539.98 L673.49,540.00 L676.46,540.01 L679.43,540.03 L682.40,540.05 L685.38,540.06 L688.37,540.08 L691.36,540.10 L694.36,540.11 L697.36,540.13 L700.37,540.14 L703.38,540.16 L706.40,540.17 L709.42,540.19 L712.45,540.20 L715.49,540.22 L718.53,540.23 L721.58,540.24 L724.63,540.26 L727.68,540.27 L730.75,540.29 L733.81,540.30 L736.89,540.31 L739.97,540.32 L743.05,540.34 L746.14,540.35 L749.23,540.36 L752.33,540.38 L755.44,540.39 L758.55,540.40 L761.67,540.41 L764.79,540.42 L767.92,540.44 L771.05,540.45 L774.19,540.46 L777.33,540.47 L780.48,540.48 L783.63,540.49 L786.79,540.50 L789.95,540.51 L793.12,540.53 L796.30,540.54 L799.48,540.55 L802.66,540.56 L805.85,540.57 L809.05,540.58 L812.25,540.59 L815.46,540.60 L818.67,540.61 L821.89,540.62 L825.11,540.63 L828.34,540.64 L831.57,540.65 L834.81,540.66 L838.05,540.67 L841.30,540.68 L844.55,540.69 L847.81,540.70 L851.07,540.71 L854.34,540.72 L857.62,540.73 L860.89,540.73 L864.18,540.74 L867.47,540.75 L870.76,540.76 L874.06,540.77 L877.37,540.78 L880.68,540.79 L883.99,540.80 L887.31,540.81 L890.64,540.82 L893.97,540.83 L897.31,540.84 L900.65,540.85 L903.99,540.85 L907.34,540.86 L910.70,540.87 L914.06,540.88 L917.43,540.89 L920.80,540.90" stroke="#008000" stroke-width="2.5" fill="none"/>
<path d="M79.40,16.80 L79.46,17.19 L79.58,17.98 L79.74,19.05 L79.93,20.36 L80.16,21.89 L80.42,23.60 L80.70,25.49 L81.02,27.54 L81.35,29.74 L81.71,32.09 L82.09,34.57 L82.49,37.18 L82.91,39.91 L83.36,42.76 L83.82,45.71 L84.30,48.77 L84.80,51.93 L85.31,55.19 L85.85,58.54 L86.40,61.97 L86.97,65.49 L87.55,69.08 L88.15,72.75 L88.77,76.49 L89.40,80.30 L90.05,84.18 L90.71,88.11 L91.39,92.11 L92.08,96.16 L92.79,100.26 L93.51,104.42 L94.25,108.62 L95.00,112.86 L95.76,117.15 L96.54,121.47 L97.33,125.83 L98.13,130.21 L98.95,134.61 L99.78,139.04 L100.62,143.49 L101.47,147.95 L102.34,152.44 L103.22,156.94 L104.12,161.46 L105.02,165.99 L105.94,170.54 L106.87,175.10 L107.81,179.68 L108.76,184.26 L109.72,188.86 L110.70,193.47 L111.69,198.10 L112.69,202.73 L113.70,207.38 L114.72,212.04 L115.75,216.71 L116.80,221.38 L117.85,226.07 L118.92,230.77 L120.00,235.46 L121.08,240.15 L122.18,244.83 L123.29,249.50 L124.41,254.16 L125.54,258.81 L126.68,263.44 L127.84,268.06 L129.00,272.67 L130.17,277.25 L131.35,281.81 L132.54,286.35 L133.75,290.86 L134.96,295.35 L136.18,299.81 L137.42,304.24 L138.66,308.64 L139.91,313.01 L141.17,317.34 L142.44,321.64 L143.73,325.91 L145.02,330.13 L146.32,334.32 L147.63,338.48 L148.95,342.61 L150.28,346.70 L151.62,350.75 L152.97,354.76 L154.32,358.74 L155.69,362.67 L157.07,366.55 L158.45,370.39 L159.85,374.19 L161.25,377.93 L162.66,381.63 L164.08,385.27 L165.52,388.86 L166.95,392.40 L168.40,395.88 L169.86,399.31 L171.33,402.69 L172.80,406.00 L174.29,409.26 L175.78,412.46 L177.28,415.61 L178.79,418.69 L180.31,421.72 L181.84,424.68 L183.37,427.59 L184.92,430.44 L186.47,433.22 L188.03,435.95 L189.60,438.62 L191.18,441.24 L192.77,443.81 L194.36,446.33 L195.97,448.80 L197.58,451.23 L199.20,453.60 L200.83,455.92 L202.47,458.20 L204.11,460.43 L205.76,462.61 L207.42,464.74 L209.09,466.82 L210.77,468.86 L212.46,470.86 L214.15,472.81 L215.85,474.71 L217.56,476.57 L219.28,478.39 L221.01,480.16 L222.74,481.90 L224.48,483.59 L226.23,485.23 L227.99,486.84 L229.75,488.41 L231.52,489.95 L233.30,491.47 L235.09,492.97 L236.89,494.44 L238.69,495.88 L240.50,497.29 L242.32,498.67 L244.15,500.01 L245.98,501.31 L247.83,502.58 L249.68,503.80 L251.53,504.98 L253.40,506.13 L255.27,507.22 L257.15,508.28 L259.04,509.29 L260.93,510.25 L262.83,511.18 L264.74,512.06 L266.66,512.89 L268.58,513.68 L270.52,514.43 L272.46,515.13 L274.40,515.81 L276.36,516.45 L278.32,517.06 L280.28,517.65 L282.26,518.22 L284.24,518.76 L286.23,519.28 L288.23,519.79 L290.23,520.28 L292.25,520.75 L294.26,521.21 L296.29,521.65 L298.32,522.08 L300.36,522.50 L302.41,522.92 L304.46,523.32 L306.53,523.71 L308.59,524.09 L310.67,524.46 L312.75,524.83 L314.84,525.17 L316.94,525.51 L319.04,525.84 L321.15,526.15 L323.27,526.45 L325.39,526.74 L327.52,527.02 L329.66,527.28 L331.81,527.53 L333.96,527.78 L336.12,528.01 L338.28,528.24 L340.45,528.47 L342.63,528.68 L344.82,528.89 L347.01,529.10 L349.21,529.30 L351.41,529.49 L353.63,529.68 L355.85,529.86 L358.07,530.04 L360.31,530.21 L362.54,530.38 L364.79,530.54 L367.04,530.69 L369.30,530.84 L371.57,530.98 L373.84,531.12 L376.12,531.26 L378.41,531.38 L380.70,531.51 L383.00,531.62 L385.30,531.73 L387.61,531.84 L389.93,531.94 L392.26,532.04 L394.59,532.13 L396.93,532.22 L399.27,532.31 L401.62,532.40 L403.98,532.49 L406.34,532.58 L408.71,532.66 L411.09,532.75 L413.47,532.84 L415.86,532.93 L418.26,533.02 L420.66,533.11 L423.07,533.20 L425.48,533.29 L427.91,533.38 L430.33,533.46 L432.77,533.55 L435.21,533.64 L437.65,533.72 L440.11,533.80 L442.57,533.89 L445.03,533.97 L447.50,534.05 L449.98,534.13 L452.46,534.21 L454.95,534.30 L457.45,534.38 L459.95,534.45 L462.46,534.53 L464.98,534.61 L467.50,534.69 L470.03,534.77 L472.56,534.85 L475.10,534.92 L477.64,535.00 L480.20,535.08 L482.75,535.15 L485.32,535.23 L487.89,535.30 L490.46,535.38 L493.05,535.46 L495.64,535.53 L498.23,535.61 L500.83,535.68 L503.44,535.75 L506.05,535.83 L508.67,535.90 L511.29,535.98 L513.92,536.05 L516.56,536.13 L519.20,536.20 L521.85,536.27 L524.50,536.35 L527.16,536.42 L529.83,536.49 L532.50,536.56 L535.18,536.63 L537.86,536.70 L540.55,536.77 L543.25,536.84 L545.95,536.91 L548.66,536.98 L551.37,537.04 L554.09,537.11 L556.82,537.17 L559.55,537.24 L562.29,537.30 L565.03,537.36 L567.78,537.42 L570.53,537.48 L573.29,537.54 L576.06,537.59 L578.83,537.65 L581.61,537.70 L584.39,537.76 L587.18,537.81 L589.97,537.86 L592.77,537.91 L595.58,537.97 L598.39,538.02 L601.21,538.06 L604.03,538.11 L606.86,538.16 L609.70,538.21 L612.54,538.25 L615.38,538.30 L618.24,538.35 L621.09,538.39 L623.96,538.43 L626.83,538.48 L629.70,538.52 L632.58,538.56 L635.47,538.60 L638.36,538.65 L641.26,538.69 L644.16,538.73 L647.07,538.77 L649.98,538.80 L652.90,538.84 L655.82,538.88 L658.76,538.92 L661.69,538.95 L664.63,538.99 L667.58,539.03 L670.53,539.06 L673.49,539.10 L676.46,539.13 L679.43,539.16 L682.40,539.20 L685.38,539.23 L688.37,539.26 L691.36,539.29 L694.36,539.32 L697.36,539.36 L700.37,539.39 L703.38,539.42 L706.40,539.45 L709.42,539.48 L712.45,539.50 L715.49,539.53 L718.53,539.56 L721.58,539.59 L724.63,539.62 L727.68,539.64 L730.75,539.67 L733.81,539.70 L736.89,539.72 L739.97,539.75 L743.05,539.78 L746.14,539.80 L749.23,539.83 L752.33,539.85 L755.44,539.88 L758.55,539.90 L761.67,539.92 L764.79,539.95 L767.92,539.97 L771.05,539.99 L774.19,540.02 L777.33,540.04 L780.48,540.06 L783.63,540.09 L786.79,540.11 L789.95,540.13 L793.12,540.15 L796.30,540.17 L799.48,540.19 L802.66,540.22 L805.85,540.24 L809.05,540.26 L812.25,540.28 L815.46,540.30 L818.67,540.32 L821.89,540.34 L825.11,540.36 L828.34,540.38 L831.57,540.40 L834.81,540.42 L838.05,540.44 L841.30,540.46 L844.55,540.48 L847.81,540.49 L851.07,540.51 L854.34,540.53 L857.62,540.55 L860.89,540.57 L864.18,540.59 L867.47,540.61 L870.76,540.63 L874.06,540.64 L877.37,540.66 L880.68,540.68 L883.99,540.70 L887.31,540.72 L890.64,540.74 L893.97,540.75 L897.31,540.77 L900.65,540.79 L903.99,540.81 L907.34,540.83 L910.70,540.84 L914.06,540.86 L917.43,540.88 L920.80,540.90" stroke="#008000" stroke-width="2.5" fill="none"/>
<path d="M79.40,16.80 L79.46,17.09 L79.58,17.68 L79.74,18.49 L79.93,19.47 L80.16,20.62 L80.42,21.90 L80.70,23.32 L81.02,24.87 L81.35,26.52 L81.71,28.29 L82.09,30.17 L82.49,32.14 L82.91,34.20 L83.36,36.36 L83.82,38.60 L84.30,40.92 L84.80,43.33 L85.31,45.81 L85.85,48.36 L86.40,50.98 L86.97,53.67 L87.55,56.43 L88.15,59.24 L88.77,62.12 L89.40,65.06 L90.05,68.05 L90.71,71.09 L91.39,74.19 L92.08,77.33 L92.79,80.52 L93.51,83.76 L94.25,87.04 L95.00,90.36 L95.76,93.72 L96.54,97.12 L97.33,100.56 L98.13,104.03 L98.95,107.54 L99.78,111.07 L100.62,114.64 L101.47,118.23 L102.34,121.86 L103.22,125.50 L104.12,129.16 L105.02,132.84 L105.94,136.54 L106.87,140.25 L107.81,143.98 L108.76,147.73 L109.72,151.48 L110.70,155.25 L111.69,159.03 L112.69,162.82 L113.70,166.62 L114.72,170.44 L115.75,174.26 L116.80,178.09 L117.85,181.93 L118.92,185.77 L120.00,189.63 L121.08,193.49 L122.18,197.36 L123.29,201.23 L124.41,205.11 L125.54,209.00 L126.68,212.89 L127.84,216.79 L129.00,220.69 L130.17,224.60 L131.35,228.51 L132.54,232.42 L133.75,236.32 L134.96,240.23 L136.18,244.13 L137.42,248.02 L138.66,251.90 L139.91,255.78 L141.17,259.64 L142.44,263.49 L143.73,267.34 L145.02,271.16 L146.32,274.98 L147.63,278.78 L148.95,282.56 L150.28,286.32 L151.62,290.07 L152.97,293.79 L154.32,297.50 L155.69,301.18 L157.07,304.84 L158.45,308.48 L159.85,312.10 L161.25,315.68 L162.66,319.25 L164.08,322.78 L165.52,326.29 L166.95,329.77 L168.40,333.22 L169.86,336.64 L171.33,340.04 L172.80,343.41 L174.29,346.75 L175.78,350.06 L177.28,353.34 L178.79,356.59 L180.31,359.81 L181.84,363.00 L183.37,366.15 L184.92,369.28 L186.47,372.37 L188.03,375.43 L189.60,378.46 L191.18,381.45 L192.77,384.41 L194.36,387.34 L195.97,390.23 L197.58,393.08 L199.20,395.90 L200.83,398.69 L202.47,401.44 L204.11,404.16 L205.76,406.84 L207.42,409.48 L209.09,412.09 L210.77,414.66 L212.46,417.20 L214.15,419.70 L215.85,422.16 L217.56,424.59 L219.28,426.98 L221.01,429.34 L222.74,431.66 L224.48,433.94 L226.23,436.19 L227.99,438.41 L229.75,440.60 L231.52,442.75 L233.30,444.88 L235.09,446.97 L236.89,449.03 L238.69,451.06 L240.50,453.06 L242.32,455.03 L244.15,456.96 L245.98,458.86 L247.83,460.73 L249.68,462.57 L251.53,464.37 L253.40,466.14 L255.27,467.88 L257.15,469.59 L259.04,471.26 L260.93,472.90 L262.83,474.51 L264.74,476.09 L266.66,477.63 L268.58,479.15 L270.52,480.63 L272.46,482.08 L274.40,483.50 L276.36,484.89 L278.32,486.25 L280.28,487.57 L282.26,488.87 L284.24,490.14 L286.23,491.37 L288.23,492.58 L290.23,493.76 L292.25,494.91 L294.26,496.04 L296.29,497.15 L298.32,498.23 L300.36,499.28 L302.41,500.32 L304.46,501.34 L306.53,502.34 L308.59,503.32 L310.67,504.29 L312.75,505.23 L314.84,506.17 L316.94,507.08 L319.04,507.98 L321.15,508.88 L323.27,509.78 L325.39,510.67 L327.52,511.53 L329.66,512.36 L331.81,513.12 L333.96,513.83 L336.12,514.53 L338.28,515.20 L340.45,515.86 L342.63,516.49 L344.82,517.10 L347.01,517.69 L349.21,518.27 L351.41,518.82 L353.63,519.36 L355.85,519.88 L358.07,520.38 L360.31,520.86 L362.54,521.33 L364.79,521.78 L367.04,522.21 L369.30,522.63 L371.57,523.04 L373.84,523.42 L376.12,523.80 L378.41,524.16 L380.70,524.50 L383.00,524.84 L385.30,525.16 L387.61,525.47 L389.93,525.77 L392.26,526.06 L394.59,526.34 L396.93,526.61 L399.27,526.87 L401.62,527.13 L403.98,527.37 L406.34,527.61 L408.71,527.83 L411.09,528.05 L413.47,528.27 L415.86,528.47 L418.26,528.67 L420.66,528.86 L423.07,529.05 L425.48,529.23 L427.91,529.40 L430.33,529.57 L432.77,529.74 L435.21,529.90 L437.65,530.05 L440.11,530.21 L442.57,530.36 L445.03,530.50 L447.50,530.65 L449.98,530.79 L452.46,530.92 L454.95,531.06 L457.45,531.19 L459.95,531.32 L462.46,531.45 L464.98,531.57 L467.50,531.70 L470.03,531.82 L472.56,531.94 L475.10,532.06 L477.64,532.18 L480.20,532.30 L482.75,532.42 L485.32,532.54 L487.89,532.65 L490.46,532.77 L493.05,532.88 L495.64,533.00 L498.23,533.11 L500.83,533.23 L503.44,533.34 L506.05,533.45 L508.67,533.57 L511.29,533.68 L513.92,533.78 L516.56,533.89 L519.20,534.00 L521.85,534.10 L524.50,534.21 L527.16,534.31 L529.83,534.41 L532.50,534.51 L535.18,534.61 L537.86,534.71 L540.55,534.80 L543.25,534.90 L545.95,534.99 L548.66,535.08 L551.37,535.17 L554.09,535.26 L556.82,535.35 L559.55,535.44 L562.29,535.53 L565.03,535.62 L567.78,535.70 L570.53,535.78 L573.29,535.87 L576.06,535.95 L578.83,536.03 L581.61,536.11 L584.39,536.19 L587.18,536.26 L589.97,536.34 L592.77,536.42 L595.58,536.49 L598.39,536.57 L601.21,536.64 L604.03,536.71 L606.86,536.78 L609.70,536.85 L612.54,536.92 L615.38,536.99 L618.24,537.05 L621.09,537.12 L623.96,537.19 L626.83,537.25 L629.70,537.31 L632.58,537.38 L635.47,537.44 L638.36,537.50 L641.26,537.56 L644.16,537.62 L647.07,537.68 L649.98,537.74 L652.90,537.80 L655.82,537.85 L658.76,537.91 L661.69,537.96 L664.63,538.02 L667.58,538.07 L670.53,538.12 L673.49,538.18 L676.46,538.23 L679.43,538.28 L682.40,538.33 L685.38,538.38 L688.37,538.43 L691.36,538.48 L694.36,538.52 L697.36,538.57 L700.37,538.62 L703.38,538.66 L706.40,538.71 L709.42,538.75 L712.45,538.80 L715.49,538.84 L718.53,538.88 L721.58,538.93 L724.63,538.97 L727.68,539.01 L730.75,539.05 L733.81,539.09 L736.89,539.13 L739.97,539.17 L743.05,539.21 L746.14,539.25 L749.23,539.29 L752.33,539.33 L755.44,539.36 L758.55,539.40 L761.67,539.44 L764.79,539.47 L767.92,539.51 L771.05,539.54 L774.19,539.58 L777.33,539.61 L780.48,539.64 L783.63,539.68 L786.79,539.71 L789.95,539.74 L793.12,539.78 L796.30,539.81 L799.48,539.84 L802.66,539.87 L805.85,539.90 L809.05,539.94 L812.25,539.97 L815.46,540.00 L818.67,540.03 L821.89,540.06 L825.11,540.09 L828.34,540.12 L831.57,540.15 L834.81,540.18 L838.05,540.21 L841.30,540.23 L844.55,540.26 L847.81,540.29 L851.07,540.32 L854.34,540.35 L857.62,540.38 L860.89,540.40 L864.18,540.43 L867.47,540.46 L870.76,540.49 L874.06,540.52 L877.37,540.54 L880.68,540.57 L883.99,540.60 L887.31,540.63 L890.64,540.65 L893.97,540.68 L897.31,540.71 L900.65,540.74 L903.99,540.76 L907.34,540.79 L910.70,540.82 L914.06,540.84 L917.43,540.87 L920.80,540.90" stroke="#008000" stroke-width="2.5" fill="none"/>
<path d="M79.40,16.80 L79.46,16.96 L79.58,17.29 L79.74,17.74 L79.93,18.29 L80.16,18.93 L80.42,19.64 L80.70,20.44 L81.02,21.30 L81.35,22.23 L81.71,23.22 L82.09,24.28 L82.49,25.39 L82.91,26.55 L83.36,27.77 L83.82,29.04 L84.30,30.37 L84.80,31.73 L85.31,33.15 L85.85,34.61 L86.40,36.11 L86.97,37.66 L87.55,39.25 L88.15,40.88 L88.77,42.54 L89.40,44.25 L90.05,45.99 L90.71,47.77 L91.39,49.59 L92.08,51.44 L92.79,53.32 L93.51,55.24 L94.25,57.19 L95.00,59.17 L95.76,61.18 L96.54,63.22 L97.33,65.29 L98.13,67.39 L98.95,69.52 L99.78,71.67 L100.62,73.86 L101.47,76.06 L102.34,78.29 L103.22,80.55 L104.12,82.83 L105.02,85.13 L105.94,87.46 L106.87,89.81 L107.81,92.18 L108.76,94.57 L109.72,96.99 L110.70,99.42 L111.69,101.87 L112.69,104.34 L113.70,106.83 L114.72,109.34 L115.75,111.86 L116.80,114.40 L117.85,116.96 L118.92,119.53 L120.00,122.12 L121.08,124.72 L122.18,127.33 L123.29,129.95 L124.41,132.58 L125.54,135.22 L126.68,137.87 L127.84,140.53 L129.00,143.20 L130.17,145.88 L131.35,148.56 L132.54,151.26 L133.75,153.96 L134.96,156.67 L136.18,159.39 L137.42,162.11 L138.66,164.85 L139.91,167.59 L141.17,170.34 L142.44,173.10 L143.73,175.87 L145.02,178.64 L146.32,181.42 L147.63,184.21 L148.95,187.01 L150.28,189.82 L151.62,192.63 L152.97,195.45 L154.32,198.28 L155.69,201.12 L157.07,203.97 L158.45,206.82 L159.85,209.68 L161.25,212.55 L162.66,215.43 L164.08,218.31 L165.52,221.20 L166.95,224.11 L168.40,227.01 L169.86,229.94 L171.33,232.87 L172.80,235.81 L174.29,238.77 L175.78,241.73 L177.28,244.70 L178.79,247.67 L180.31,250.65 L181.84,253.63 L183.37,256.61 L184.92,259.60 L186.47,262.58 L188.03,265.56 L189.60,268.53 L191.18,271.50 L192.77,274.46 L194.36,277.41 L195.97,280.36 L197.58,283.29 L199.20,286.21 L200.83,289.12 L202.47,292.02 L204.11,294.90 L205.76,297.76 L207.42,300.60 L209.09,303.43 L210.77,306.23 L212.46,309.02 L214.15,311.78 L215.85,314.52 L217.56,317.23 L219.28,319.92 L221.01,322.58 L222.74,325.22 L224.48,327.83 L226.23,330.41 L227.99,332.96 L229.75,335.49 L231.52,338.00 L233.30,340.49 L235.09,342.96 L236.89,345.41 L238.69,347.84 L240.50,350.25 L242.32,352.63 L244.15,355.00 L245.98,357.35 L247.83,359.68 L249.68,361.98 L251.53,364.27 L253.40,366.54 L255.27,368.79 L257.15,371.01 L259.04,373.22 L260.93,375.41 L262.83,377.58 L264.74,379.73 L266.66,381.86 L268.58,383.97 L270.52,386.06 L272.46,388.13 L274.40,390.18 L276.36,392.22 L278.32,394.23 L280.28,396.23 L282.26,398.20 L284.24,400.16 L286.23,402.10 L288.23,404.02 L290.23,405.92 L292.25,407.81 L294.26,409.68 L296.29,411.52 L298.32,413.35 L300.36,415.17 L302.41,416.96 L304.46,418.74 L306.53,420.50 L308.59,422.24 L310.67,423.96 L312.75,425.67 L314.84,427.36 L316.94,429.03 L319.04,430.69 L321.15,432.32 L323.27,433.95 L325.39,435.55 L327.52,437.14 L329.66,438.71 L331.81,440.28 L333.96,441.82 L336.12,443.35 L338.28,444.87 L340.45,446.37 L342.63,447.85 L344.82,449.32 L347.01,450.78 L349.21,452.21 L351.41,453.64 L353.63,455.04 L355.85,456.43 L358.07,457.80 L360.31,459.15 L362.54,460.49 L364.79,461.81 L367.04,463.11 L369.30,464.39 L371.57,465.66 L373.84,466.91 L376.12,468.14 L378.41,469.35 L380.70,470.55 L383.00,471.72 L385.30,472.88 L387.61,474.03 L389.93,475.15 L392.26,476.26 L394.59,477.35 L396.93,478.42 L399.27,479.47 L401.62,480.51 L403.98,481.52 L406.34,482.53 L408.71,483.51 L411.09,484.48 L413.47,485.42 L415.86,486.36 L418.26,487.27 L420.66,488.17 L423.07,489.06 L425.48,489.93 L427.91,490.79 L430.33,491.63 L432.77,492.47 L435.21,493.28 L437.65,494.09 L440.11,494.88 L442.57,495.66 L445.03,496.42 L447.50,497.18 L449.98,497.92 L452.46,498.65 L454.95,499.37 L457.45,500.08 L459.95,500.78 L462.46,501.46 L464.98,502.14 L467.50,502.80 L470.03,503.45 L472.56,504.10 L475.10,504.73 L477.64,505.35 L480.20,505.97 L482.75,506.57 L485.32,507.17 L487.89,507.75 L490.46,508.33 L493.05,508.90 L495.64,509.46 L498.23,510.01 L500.83,510.55 L503.44,511.08 L506.05,511.60 L508.67,512.12 L511.29,512.62 L513.92,513.12 L516.56,513.61 L519.20,514.09 L521.85,514.56 L524.50,515.03 L527.16,515.49 L529.83,515.94 L532.50,516.38 L535.18,516.82 L537.86,517.24 L540.55,517.67 L543.25,518.08 L545.95,518.49 L548.66,518.89 L551.37,519.29 L554.09,519.68 L556.82,520.07 L559.55,520.45 L562.29,520.82 L565.03,521.19 L567.78,521.55 L570.53,521.91 L573.29,522.26 L576.06,522.61 L578.83,522.95 L581.61,523.29 L584.39,523.62 L587.18,523.95 L589.97,524.27 L592.77,524.59 L595.58,524.90 L598.39,525.21 L601.21,525.52 L604.03,525.81 L606.86,526.11 L609.70,526.40 L612.54,526.68 L615.38,526.96 L618.24,527.24 L621.09,527.51 L623.96,527.77 L626.83,528.04 L629.70,528.30 L632.58,528.55 L635.47,528.80 L638.36,529.05 L641.26,529.29 L644.16,529.53 L647.07,529.76 L649.98,529.99 L652.90,530.22 L655.82,530.44 L658.76,530.66 L661.69,530.88 L664.63,531.09 L667.58,531.30 L670.53,531.50 L673.49,531.71 L676.46,531.91 L679.43,532.10 L682.40,532.29 L685.38,532.48 L688.37,532.67 L691.36,532.85 L694.36,533.03 L697.36,533.21 L700.37,533.39 L703.38,533.56 L706.40,533.73 L709.42,533.89 L712.45,534.06 L715.49,534.22 L718.53,534.38 L721.58,534.53 L724.63,534.69 L727.68,534.84 L730.75,534.99 L733.81,535.13 L736.89,535.28 L739.97,535.42 L743.05,535.56 L746.14,535.70 L749.23,535.83 L752.33,535.97 L755.44,536.10 L758.55,536.22 L761.67,536.35 L764.79,536.47 L767.92,536.60 L771.05,536.72 L774.19,536.84 L777.33,536.95 L780.48,537.07 L783.63,537.18 L786.79,537.29 L789.95,537.40 L793.12,537.51 L796.30,537.62 L799.48,537.73 L802.66,537.83 L805.85,537.93 L809.05,538.03 L812.25,538.13 L815.46,538.23 L818.67,538.33 L821.89,538.43 L825.11,538.52 L828.34,538.62 L831.57,538.71 L834.81,538.80 L838.05,538.89 L841.30,538.98 L844.55,539.07 L847.81,539.16 L851.07,539.24 L854.34,539.33 L857.62,539.41 L860.89,539.50 L864.18,539.58 L867.47,539.66 L870.76,539.74 L874.06,539.83 L877.37,539.91 L880.68,539.99 L883.99,540.06 L887.31,540.14 L890.64,540.22 L893.97,540.30 L897.31,540.37 L900.65,540.45 L903.99,540.53 L907.34,540.60 L910.70,540.68 L914.06,540.75 L917.43,540.83 L920.80,540.90" stroke="#008000" stroke-width="2.5" fill="none"/></g>
<g stroke="#77ac30" fill="#77ac30">
<line x1="319.8" y1="395.6" x2="136" y2="502.8" stroke-width="2.8"/>
<path d="M128.3,508 L139.2,493.3 L139.2,500.8 L145.1,504.6 Z" stroke-width="1"/>
</g>
<rect x="306" y="28.5" width="315.3" height="73" fill="none" stroke="#555" stroke-width="1.5"/>
<text transform="translate(314.50,61.60) scale(1,1.09)">fw = 0.3, c = 4, Df = 0.1,</text>
<text transform="translate(314.50,94.60) scale(1,1.09)">Sr = 0.1, Sc = 0.7, <tspan class="gk" fill="#444">γ</tspan><tspan dx="3.6"> = 0.5</tspan></text>
<rect x="641.5" y="21.5" width="224" height="111" fill="none" stroke="#777" stroke-width="1.8"/>
<text transform="translate(650.00,53.40) scale(1,1.09)">Ternary Group 1</text>
<text transform="translate(650.00,87.10) scale(1,1.09)">Ternary Group 2</text>
<text transform="translate(649.50,119.60) scale(1,1.09)">Base fluid</text>
<line x1="826.5" y1="48.7" x2="859" y2="48.7" stroke="#0000ff" stroke-width="3" stroke-dasharray="4.3 1.6"/>
<line x1="828" y1="80.2" x2="859" y2="80.2" stroke="#ff0000" stroke-width="3" stroke-dasharray="13.5 10"/>
<line x1="830" y1="111.8" x2="858.5" y2="111.8" stroke="#008000" stroke-width="3"/>
<rect x="668" y="147" width="170" height="51.2" fill="none" stroke="#555" stroke-width="1.5"/>
<text transform="translate(676.50,179.10) scale(1,1.09)">Pr = 4, 5, 6, 7</text>
<text transform="translate(78.90,575.90) scale(1,1.09)" text-anchor="middle">0</text>
<text transform="translate(247.18,575.90) scale(1,1.09)" text-anchor="middle">0.5</text>
<text transform="translate(415.46,575.90) scale(1,1.09)" text-anchor="middle">1</text>
<text transform="translate(583.74,575.90) scale(1,1.09)" text-anchor="middle">1.5</text>
<text transform="translate(752.02,575.90) scale(1,1.09)" text-anchor="middle">2</text>
<text transform="translate(920.30,575.90) scale(1,1.09)" text-anchor="middle">2.5</text>
<text transform="translate(69.60,551.40) scale(1,1.09)" text-anchor="end">0</text>
<text transform="translate(69.60,446.58) scale(1,1.09)" text-anchor="end">0.2</text>
<text transform="translate(69.60,341.76) scale(1,1.09)" text-anchor="end">0.4</text>
<text transform="translate(69.60,236.94) scale(1,1.09)" text-anchor="end">0.6</text>
<text transform="translate(69.60,132.12) scale(1,1.09)" text-anchor="end">0.8</text>
<text transform="translate(69.60,27.30) scale(1,1.09)" text-anchor="end">1</text>
<text class="gk" x="500.3" y="614.2" text-anchor="middle" style="font-size:25.6px">η</text>
<g transform="translate(26.6,0) rotate(-90)" style="font-size:25.6px">
<text class="gk" x="-296.5" y="0" text-anchor="middle">θ</text>
<text x="-284.6" y="0" text-anchor="middle">(</text>
<text class="gk" x="-271.8" y="0" text-anchor="middle">η</text>
<text x="-260.3" y="0" text-anchor="middle">)</text>
</g>
</svg>
</body></html>
